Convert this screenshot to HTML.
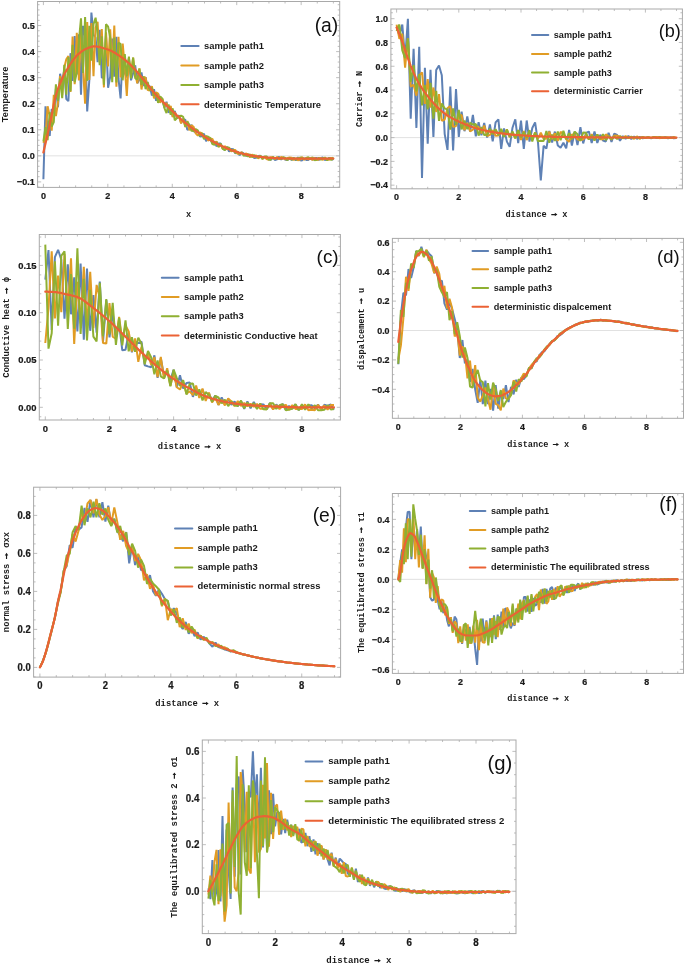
<!DOCTYPE html>
<html><head><meta charset="utf-8"><style>
html,body{margin:0;padding:0;background:#fff;}
body{width:685px;height:965px;overflow:hidden;}
svg{display:block;}
text{fill:#1a1a1a;}
svg{will-change:transform;filter:blur(0.3px);}
.tk{font-family:"Liberation Sans", sans-serif;font-weight:bold;stroke:#1a1a1a;stroke-width:0.22px;}
.lg{font-family:"Liberation Sans", sans-serif;font-weight:bold;}
.pl{font-family:"Liberation Sans", sans-serif;fill:#111;}
.yl{font-family:"Liberation Sans", sans-serif;font-weight:bold;}
.ml{font-family:"Liberation Mono", monospace;font-weight:bold;}
</style></head><body>
<svg width="685" height="965" viewBox="0 0 685 965">
<rect width="100%" height="100%" fill="#fff"/>
<clipPath id="clipa"><rect x="37.60" y="1.50" width="302.10" height="185.90"/></clipPath>
<line x1="37.60" y1="155.85" x2="339.70" y2="155.85" stroke="#dedede" stroke-width="0.9"/>
<g clip-path="url(#clipa)" fill="none">
<polyline points="43.4,179.3 45.5,106.3 47.6,127.9 49.7,135.9 51.7,109.0 53.8,113.4 55.9,88.6 58.0,107.1 60.1,73.8 62.2,85.2 64.3,69.0 66.3,99.0 68.4,101.1 70.5,53.2 72.6,81.0 74.7,36.1 76.8,74.4 78.9,34.4 81.0,94.6 83.0,25.9 85.1,36.3 87.2,111.5 89.3,80.4 91.4,12.5 93.5,34.7 95.6,37.5 97.6,62.1 99.7,29.7 101.8,78.0 103.9,76.8 106.0,35.8 108.1,87.8 110.2,76.8 112.2,38.5 114.3,76.7 116.4,36.9 118.5,78.7 120.6,98.5 122.7,52.5 124.8,73.0 126.8,77.4 128.9,57.8 131.0,80.3 133.1,73.1 135.2,65.3 137.3,83.2 139.4,79.5 141.5,72.5 143.5,86.1 145.6,77.1 147.7,88.8 149.8,85.9 151.9,95.6 154.0,89.3 156.1,100.7 158.1,93.4 160.2,101.1 162.3,99.5 164.4,107.6 166.5,101.8 168.6,112.8 170.7,106.9 172.7,116.6 174.8,110.9 176.9,118.5 179.0,115.3 181.1,123.0 183.2,118.9 185.3,119.8 187.3,129.8 189.4,128.9 191.5,124.8 193.6,131.2 195.7,132.5 197.8,131.1 199.9,136.5 202.0,136.3 204.0,133.7 206.1,141.2 208.2,138.0 210.3,139.0 212.4,143.2 214.5,141.5 216.6,146.4 218.6,143.4 220.7,143.6 222.8,148.6 224.9,150.0 227.0,146.8 229.1,151.6 231.2,149.0 233.2,149.2 235.3,153.4 237.4,151.5 239.5,155.3 241.6,152.4 243.7,153.5 245.8,155.9 247.8,154.1 249.9,157.1 252.0,155.0 254.1,157.9 256.2,157.8 258.3,156.1 260.4,155.8 262.4,158.6 264.5,156.9 266.6,156.8 268.7,159.2 270.8,159.7 272.9,157.6 275.0,160.0 277.1,159.3 279.1,156.7 281.2,159.7 283.3,157.3 285.4,159.8 287.5,159.9 289.6,158.0 291.7,160.0 293.7,157.7 295.8,160.4 297.9,157.4 300.0,160.2 302.1,160.4 304.2,158.1 306.3,160.1 308.3,159.9 310.4,158.1 312.5,159.8 314.6,158.0 316.7,158.1 318.8,160.0 320.9,158.0 322.9,157.6 325.0,160.0 327.1,159.4 329.2,157.9 331.3,157.9 333.4,160.0" stroke="#5E81B5" stroke-width="2.0" stroke-linejoin="bevel"/>
<polyline points="43.4,142.8 45.5,137.6 47.6,106.3 49.7,115.5 51.7,130.6 53.8,94.9 55.9,116.2 58.0,102.6 60.1,75.9 62.2,95.1 64.3,67.4 66.3,59.2 68.4,56.1 70.5,92.0 72.6,36.5 74.7,84.2 76.8,32.7 78.9,80.5 81.0,31.2 83.0,67.7 85.1,103.7 87.2,22.1 89.3,80.0 91.4,23.0 93.5,76.2 95.6,27.9 97.6,21.9 99.7,62.1 101.8,29.1 103.9,87.4 106.0,32.3 108.1,66.4 110.2,29.3 112.2,68.7 114.3,25.5 116.4,86.7 118.5,36.7 120.6,77.5 122.7,43.6 124.8,67.0 126.8,95.9 128.9,59.0 131.0,74.8 133.1,57.7 135.2,74.2 137.3,83.4 139.4,68.3 141.5,89.5 143.5,77.0 145.6,77.6 147.7,90.0 149.8,90.4 151.9,86.1 154.0,98.4 156.1,92.4 158.1,93.7 160.2,102.8 162.3,98.4 164.4,106.7 166.5,102.9 168.6,109.8 170.7,105.9 172.7,117.2 174.8,112.2 176.9,117.6 179.0,116.4 181.1,123.4 183.2,118.9 185.3,127.1 187.3,121.0 189.4,130.3 191.5,125.3 193.6,126.8 195.7,133.4 197.8,135.6 199.9,132.4 202.0,133.5 204.0,138.1 206.1,136.0 208.2,140.7 210.3,138.6 212.4,138.9 214.5,144.2 216.6,141.3 218.6,146.9 220.7,144.4 222.8,149.2 224.9,146.1 227.0,149.6 229.1,147.8 231.2,151.5 233.2,150.0 235.3,150.1 237.4,153.8 239.5,153.8 241.6,152.2 243.7,155.0 245.8,153.5 247.8,154.1 249.9,157.2 252.0,154.5 254.1,156.9 256.2,155.4 258.3,158.5 260.4,156.1 262.4,159.0 264.5,156.7 266.6,159.0 268.7,159.7 270.8,157.2 272.9,157.5 275.0,159.2 277.1,157.0 279.1,159.3 281.2,156.9 283.3,157.9 285.4,159.5 287.5,158.0 289.6,157.6 291.7,157.7 293.7,160.1 295.8,158.1 297.9,160.2 300.0,159.6 302.1,157.2 304.2,159.8 306.3,158.1 308.3,159.3 310.4,157.9 312.5,160.2 314.6,157.9 316.7,160.1 318.8,159.5 320.9,158.2 322.9,159.9 325.0,157.6 327.1,159.4 329.2,159.7 331.3,157.8 333.4,159.6" stroke="#E19C24" stroke-width="2.0" stroke-linejoin="bevel"/>
<polyline points="43.4,141.5 45.5,127.2 47.6,140.2 49.7,112.2 51.7,126.7 53.8,122.1 55.9,84.3 58.0,101.0 60.1,78.6 62.2,98.2 64.3,64.8 66.3,94.8 68.4,57.0 70.5,91.1 72.6,44.9 74.7,82.2 76.8,72.3 78.9,40.9 81.0,18.4 83.0,73.0 85.1,17.1 87.2,80.9 89.3,25.8 91.4,60.6 93.5,24.2 95.6,17.7 97.6,33.8 99.7,65.3 101.8,36.3 103.9,84.6 106.0,24.2 108.1,26.7 110.2,37.6 112.2,82.1 114.3,37.5 116.4,82.5 118.5,42.9 120.6,44.0 122.7,80.3 124.8,54.2 126.8,76.0 128.9,56.5 131.0,78.4 133.1,57.6 135.2,78.1 137.3,79.5 139.4,68.7 141.5,84.8 143.5,76.4 145.6,89.2 147.7,82.0 149.8,90.4 151.9,87.5 154.0,96.0 156.1,93.2 158.1,102.9 160.2,96.3 162.3,98.6 164.4,108.1 166.5,113.0 168.6,104.5 170.7,114.7 172.7,108.3 174.8,120.4 176.9,118.0 179.0,116.2 181.1,115.7 183.2,116.9 185.3,126.6 187.3,121.5 189.4,124.8 191.5,130.8 193.6,131.0 195.7,129.1 197.8,130.3 199.9,136.0 202.0,133.1 204.0,139.1 206.1,136.1 208.2,136.8 210.3,138.2 212.4,144.1 214.5,144.8 216.6,142.2 218.6,146.9 220.7,143.6 222.8,148.6 224.9,150.2 227.0,147.2 229.1,147.8 231.2,150.8 233.2,149.6 235.3,153.0 237.4,151.7 239.5,153.8 241.6,152.5 243.7,155.7 245.8,155.1 247.8,156.3 249.9,154.2 252.0,157.3 254.1,154.8 256.2,157.1 258.3,157.6 260.4,155.7 262.4,158.8 264.5,156.4 266.6,156.4 268.7,159.5 270.8,159.7 272.9,156.7 275.0,158.8 277.1,157.7 279.1,157.8 281.2,158.9 283.3,157.2 285.4,158.0 287.5,160.2 289.6,157.6 291.7,159.8 293.7,158.0 295.8,159.7 297.9,158.1 300.0,157.6 302.1,157.8 304.2,159.3 306.3,158.0 308.3,157.2 310.4,159.3 312.5,157.3 314.6,160.3 316.7,159.7 318.8,157.7 320.9,159.7 322.9,158.1 325.0,157.6 327.1,160.4 329.2,157.8 331.3,160.2 333.4,157.4" stroke="#8FB032" stroke-width="2.0" stroke-linejoin="bevel"/>
<polyline points="43.4,152.5 44.2,149.0 45.0,145.6 45.8,142.2 46.6,138.7 47.4,135.2 48.2,131.6 49.0,127.9 49.8,124.0 50.6,120.0 51.5,115.9 52.3,111.9 53.1,107.9 53.9,104.0 54.7,100.4 55.5,97.1 56.3,94.1 57.1,91.5 57.9,89.2 58.7,87.0 59.5,84.9 60.3,82.9 61.1,81.0 61.9,79.2 62.7,77.5 63.5,75.8 64.3,74.3 65.1,72.8 66.0,71.3 66.8,69.9 67.6,68.6 68.4,67.2 69.2,65.9 70.0,64.7 70.8,63.5 71.6,62.3 72.4,61.1 73.2,60.0 74.0,58.9 74.8,57.9 75.6,57.0 76.4,56.0 77.2,55.2 78.0,54.4 78.8,53.7 79.6,53.0 80.5,52.4 81.3,51.8 82.1,51.2 82.9,50.6 83.7,50.1 84.5,49.6 85.3,49.2 86.1,48.8 86.9,48.5 87.7,48.2 88.5,47.8 89.3,47.5 90.1,47.2 90.9,47.0 91.7,46.7 92.5,46.6 93.3,46.4 94.1,46.4 95.0,46.4 95.8,46.5 96.6,46.5 97.4,46.6 98.2,46.8 99.0,46.9 99.8,47.1 100.6,47.3 101.4,47.5 102.2,47.7 103.0,48.0 103.8,48.2 104.6,48.5 105.4,48.7 106.2,49.0 107.0,49.2 107.8,49.5 108.6,49.8 109.5,50.1 110.3,50.4 111.1,50.8 111.9,51.2 112.7,51.6 113.5,52.1 114.3,52.5 115.1,53.0 115.9,53.5 116.7,54.0 117.5,54.6 118.3,55.1 119.1,55.6 119.9,56.2 120.7,56.8 121.5,57.3 122.3,57.9 123.1,58.5 123.9,59.1 124.8,59.7 125.6,60.4 126.4,61.1 127.2,61.8 128.0,62.5 128.8,63.2 129.6,64.0 130.4,64.8 131.2,65.6 132.0,66.4 132.8,67.2 133.6,68.0 134.4,68.9 135.2,69.8 136.0,70.7 136.8,71.6 137.6,72.5 138.4,73.5 139.3,74.5 140.1,75.5 140.9,76.5 141.7,77.5 142.5,78.5 143.3,79.5 144.1,80.5 144.9,81.4 145.7,82.4 146.5,83.4 147.3,84.4 148.1,85.4 148.9,86.4 149.7,87.4 150.5,88.4 151.3,89.4 152.1,90.4 152.9,91.4 153.8,92.3 154.6,93.3 155.4,94.2 156.2,95.0 157.0,95.9 157.8,96.8 158.6,97.6 159.4,98.4 160.2,99.2 161.0,100.0 161.8,100.8 162.6,101.6 163.4,102.3 164.2,103.1 165.0,103.9 165.8,104.7 166.6,105.4 167.4,106.2 168.3,107.0 169.1,107.8 169.9,108.6 170.7,109.4 171.5,110.2 172.3,111.0 173.1,111.7 173.9,112.5 174.7,113.3 175.5,114.1 176.3,114.9 177.1,115.6 177.9,116.4 178.7,117.1 179.5,117.9 180.3,118.6 181.1,119.3 181.9,120.0 182.8,120.7 183.6,121.4 184.4,122.1 185.2,122.8 186.0,123.4 186.8,124.0 187.6,124.7 188.4,125.3 189.2,125.9 190.0,126.6 190.8,127.2 191.6,127.8 192.4,128.4 193.2,129.0 194.0,129.5 194.8,130.1 195.6,130.7 196.4,131.3 197.3,131.8 198.1,132.4 198.9,132.9 199.7,133.5 200.5,134.0 201.3,134.5 202.1,135.0 202.9,135.6 203.7,136.1 204.5,136.6 205.3,137.1 206.1,137.6 206.9,138.0 207.7,138.5 208.5,139.0 209.3,139.5 210.1,139.9 210.9,140.4 211.7,140.9 212.6,141.3 213.4,141.7 214.2,142.2 215.0,142.6 215.8,143.0 216.6,143.5 217.4,143.9 218.2,144.3 219.0,144.7 219.8,145.0 220.6,145.4 221.4,145.8 222.2,146.2 223.0,146.5 223.8,146.9 224.6,147.3 225.4,147.6 226.2,148.0 227.1,148.3 227.9,148.7 228.7,149.0 229.5,149.3 230.3,149.7 231.1,150.0 231.9,150.3 232.7,150.6 233.5,150.9 234.3,151.2 235.1,151.4 235.9,151.7 236.7,151.9 237.5,152.2 238.3,152.4 239.1,152.7 239.9,152.9 240.7,153.1 241.6,153.3 242.4,153.6 243.2,153.8 244.0,154.0 244.8,154.2 245.6,154.4 246.4,154.6 247.2,154.8 248.0,154.9 248.8,155.1 249.6,155.3 250.4,155.4 251.2,155.6 252.0,155.7 252.8,155.8 253.6,156.0 254.4,156.1 255.2,156.2 256.1,156.3 256.9,156.4 257.7,156.5 258.5,156.6 259.3,156.7 260.1,156.8 260.9,156.9 261.7,157.0 262.5,157.1 263.3,157.2 264.1,157.3 264.9,157.4 265.7,157.4 266.5,157.5 267.3,157.6 268.1,157.6 268.9,157.7 269.7,157.7 270.6,157.8 271.4,157.8 272.2,157.9 273.0,157.9 273.8,158.0 274.6,158.0 275.4,158.1 276.2,158.1 277.0,158.2 277.8,158.2 278.6,158.2 279.4,158.3 280.2,158.3 281.0,158.3 281.8,158.4 282.6,158.4 283.4,158.4 284.2,158.4 285.0,158.5 285.9,158.5 286.7,158.5 287.5,158.5 288.3,158.5 289.1,158.6 289.9,158.6 290.7,158.6 291.5,158.6 292.3,158.6 293.1,158.6 293.9,158.6 294.7,158.7 295.5,158.7 296.3,158.7 297.1,158.7 297.9,158.7 298.7,158.7 299.5,158.7 300.4,158.7 301.2,158.7 302.0,158.7 302.8,158.7 303.6,158.7 304.4,158.7 305.2,158.7 306.0,158.7 306.8,158.7 307.6,158.7 308.4,158.7 309.2,158.7 310.0,158.7 310.8,158.7 311.6,158.7 312.4,158.7 313.2,158.7 314.0,158.7 314.9,158.7 315.7,158.7 316.5,158.7 317.3,158.7 318.1,158.7 318.9,158.7 319.7,158.7 320.5,158.7 321.3,158.7 322.1,158.7 322.9,158.7 323.7,158.7 324.5,158.6 325.3,158.6 326.1,158.6 326.9,158.6 327.7,158.6 328.5,158.6 329.4,158.6 330.2,158.5 331.0,158.5 331.8,158.5 332.6,158.5 333.4,158.5" stroke="#EB6235" stroke-width="2.2" stroke-linejoin="round" stroke-linecap="round"/>
</g>
<path d="M43.40 187.40v-3.60M43.40 1.50v3.60M59.51 187.40v-2.00M59.51 1.50v2.00M75.62 187.40v-2.00M75.62 1.50v2.00M91.73 187.40v-2.00M91.73 1.50v2.00M107.84 187.40v-3.60M107.84 1.50v3.60M123.95 187.40v-2.00M123.95 1.50v2.00M140.06 187.40v-2.00M140.06 1.50v2.00M156.17 187.40v-2.00M156.17 1.50v2.00M172.28 187.40v-3.60M172.28 1.50v3.60M188.39 187.40v-2.00M188.39 1.50v2.00M204.50 187.40v-2.00M204.50 1.50v2.00M220.61 187.40v-2.00M220.61 1.50v2.00M236.72 187.40v-3.60M236.72 1.50v3.60M252.83 187.40v-2.00M252.83 1.50v2.00M268.94 187.40v-2.00M268.94 1.50v2.00M285.05 187.40v-2.00M285.05 1.50v2.00M301.16 187.40v-3.60M301.16 1.50v3.60M317.27 187.40v-2.00M317.27 1.50v2.00M333.38 187.40v-2.00M333.38 1.50v2.00M37.60 187.12h2.00M339.70 187.12h-2.00M37.60 181.91h3.60M339.70 181.91h-3.60M37.60 176.70h2.00M339.70 176.70h-2.00M37.60 171.49h2.00M339.70 171.49h-2.00M37.60 166.27h2.00M339.70 166.27h-2.00M37.60 161.06h2.00M339.70 161.06h-2.00M37.60 155.85h3.60M339.70 155.85h-3.60M37.60 150.64h2.00M339.70 150.64h-2.00M37.60 145.43h2.00M339.70 145.43h-2.00M37.60 140.21h2.00M339.70 140.21h-2.00M37.60 135.00h2.00M339.70 135.00h-2.00M37.60 129.79h3.60M339.70 129.79h-3.60M37.60 124.58h2.00M339.70 124.58h-2.00M37.60 119.37h2.00M339.70 119.37h-2.00M37.60 114.15h2.00M339.70 114.15h-2.00M37.60 108.94h2.00M339.70 108.94h-2.00M37.60 103.73h3.60M339.70 103.73h-3.60M37.60 98.52h2.00M339.70 98.52h-2.00M37.60 93.31h2.00M339.70 93.31h-2.00M37.60 88.09h2.00M339.70 88.09h-2.00M37.60 82.88h2.00M339.70 82.88h-2.00M37.60 77.67h3.60M339.70 77.67h-3.60M37.60 72.46h2.00M339.70 72.46h-2.00M37.60 67.25h2.00M339.70 67.25h-2.00M37.60 62.03h2.00M339.70 62.03h-2.00M37.60 56.82h2.00M339.70 56.82h-2.00M37.60 51.61h3.60M339.70 51.61h-3.60M37.60 46.40h2.00M339.70 46.40h-2.00M37.60 41.19h2.00M339.70 41.19h-2.00M37.60 35.97h2.00M339.70 35.97h-2.00M37.60 30.76h2.00M339.70 30.76h-2.00M37.60 25.55h3.60M339.70 25.55h-3.60M37.60 20.34h2.00M339.70 20.34h-2.00M37.60 15.13h2.00M339.70 15.13h-2.00M37.60 9.91h2.00M339.70 9.91h-2.00M37.60 4.70h2.00M339.70 4.70h-2.00" stroke="#b4b4b4" stroke-width="0.85" fill="none"/>
<rect x="37.60" y="1.50" width="302.10" height="185.90" fill="none" stroke="#a9a9a9" stroke-width="1"/>
<text transform="translate(34.75 185.27) scale(1 1.060)" text-anchor="end" class="tk" style="font-size:9.05px">−0.1</text>
<text transform="translate(34.75 159.21) scale(1 1.060)" text-anchor="end" class="tk" style="font-size:9.05px">0.0</text>
<text transform="translate(34.75 133.15) scale(1 1.060)" text-anchor="end" class="tk" style="font-size:9.05px">0.1</text>
<text transform="translate(34.75 107.09) scale(1 1.060)" text-anchor="end" class="tk" style="font-size:9.05px">0.2</text>
<text transform="translate(34.75 81.03) scale(1 1.060)" text-anchor="end" class="tk" style="font-size:9.05px">0.3</text>
<text transform="translate(34.75 54.97) scale(1 1.060)" text-anchor="end" class="tk" style="font-size:9.05px">0.4</text>
<text transform="translate(34.75 28.91) scale(1 1.060)" text-anchor="end" class="tk" style="font-size:9.05px">0.5</text>
<text transform="translate(43.40 198.83) scale(1 1.060)" text-anchor="middle" class="tk" style="font-size:9.05px">0</text>
<text transform="translate(107.84 198.83) scale(1 1.060)" text-anchor="middle" class="tk" style="font-size:9.05px">2</text>
<text transform="translate(172.28 198.83) scale(1 1.060)" text-anchor="middle" class="tk" style="font-size:9.05px">4</text>
<text transform="translate(236.72 198.83) scale(1 1.060)" text-anchor="middle" class="tk" style="font-size:9.05px">6</text>
<text transform="translate(301.16 198.83) scale(1 1.060)" text-anchor="middle" class="tk" style="font-size:9.05px">8</text>
<line x1="181.30" y1="46.00" x2="198.60" y2="46.00" stroke="#5E81B5" stroke-width="2" stroke-linecap="round"/>
<text x="203.97" y="49.30" class="lg" style="font-size:9.38px">sample path1</text>
<line x1="181.30" y1="65.50" x2="198.60" y2="65.50" stroke="#E19C24" stroke-width="2" stroke-linecap="round"/>
<text x="203.97" y="68.80" class="lg" style="font-size:9.38px">sample path2</text>
<line x1="181.30" y1="84.90" x2="198.60" y2="84.90" stroke="#8FB032" stroke-width="2" stroke-linecap="round"/>
<text x="203.97" y="88.20" class="lg" style="font-size:9.38px">sample path3</text>
<line x1="181.30" y1="104.20" x2="198.60" y2="104.20" stroke="#EB6235" stroke-width="2" stroke-linecap="round"/>
<text x="203.97" y="107.50" class="lg" style="font-size:9.38px">deterministic Temperature</text>
<text x="314.70" y="32.10" class="pl" style="font-size:19.30px">(a)</text>
<text transform="translate(7.70 94.45) rotate(-90)" x="0" y="0" text-anchor="middle" class="yl" style="font-size:9.30px">Temperature</text>
<text x="185.89" y="216.60" class="ml" style="font-size:8.70px">x</text>
<clipPath id="clipb"><rect x="390.90" y="9.00" width="291.50" height="179.80"/></clipPath>
<line x1="390.90" y1="137.60" x2="682.40" y2="137.60" stroke="#dedede" stroke-width="0.9"/>
<g clip-path="url(#clipb)" fill="none">
<polyline points="396.6,27.0 399.4,35.3 402.3,24.6 405.1,59.1 407.9,18.7 410.7,118.6 413.6,48.9 416.4,127.9 419.2,46.8 422.0,178.0 424.9,67.7 427.7,143.8 430.5,69.8 433.4,136.9 436.2,70.0 439.0,65.5 441.8,75.2 444.7,134.1 447.5,149.9 450.3,86.5 453.1,150.4 456.0,89.1 458.8,137.0 461.6,111.6 464.5,131.2 467.3,116.5 470.1,131.5 472.9,114.9 475.8,136.4 478.6,122.1 481.4,135.4 484.2,122.9 487.1,137.6 489.9,124.5 492.7,141.3 495.6,122.4 498.4,119.4 501.2,148.8 504.0,128.4 506.9,141.6 509.7,146.8 512.5,127.7 515.3,119.3 518.2,143.1 521.0,120.7 523.8,148.9 526.7,120.5 529.5,141.5 532.3,128.0 535.1,122.4 538.0,142.5 540.8,180.4 543.6,145.8 546.4,148.6 549.3,131.0 552.1,142.5 554.9,131.6 557.8,145.5 560.6,147.7 563.4,142.8 566.2,148.3 569.1,130.0 571.9,145.5 574.7,131.6 577.5,145.0 580.4,127.1 583.2,143.4 586.0,132.9 588.9,131.6 591.7,142.9 594.5,131.6 597.3,143.0 600.2,134.8 603.0,140.5 605.8,141.5 608.6,132.7 611.5,141.9 614.3,133.6 617.1,134.9 620.0,140.7 622.8,136.1 625.6,138.9 628.4,135.9 631.3,139.1 634.1,136.6 636.9,138.8 639.7,136.9 642.6,138.3 645.4,137.8 648.2,137.3 651.1,138.2 653.9,137.3 656.7,138.1 659.5,137.3 662.4,137.9 665.2,137.2 668.0,138.2 670.8,137.2 673.7,138.2 676.5,138.1" stroke="#5E81B5" stroke-width="2.0" stroke-linejoin="bevel"/>
<polyline points="396.6,24.6 399.4,38.9 402.3,33.8 405.1,67.6 407.9,38.3 410.7,86.5 413.6,84.9 416.4,95.7 419.2,75.5 422.0,72.3 424.9,104.0 427.7,79.2 430.5,107.7 433.4,87.5 436.2,112.0 439.0,94.1 441.8,120.7 444.7,119.6 447.5,108.1 450.3,106.2 453.1,126.9 456.0,126.1 458.8,116.0 461.6,114.9 464.5,130.2 467.3,122.9 470.1,131.3 472.9,129.6 475.8,125.5 478.6,127.2 481.4,133.3 484.2,125.5 487.1,136.1 489.9,134.9 492.7,130.2 495.6,135.8 498.4,135.5 501.2,130.9 504.0,136.0 506.9,129.4 509.7,137.2 512.5,133.1 515.3,138.2 518.2,131.0 521.0,140.0 523.8,131.1 526.7,140.0 529.5,133.4 532.3,139.1 535.1,132.5 538.0,138.6 540.8,132.8 543.6,138.7 546.4,138.7 549.3,131.6 552.1,139.1 554.9,133.3 557.8,140.9 560.6,131.8 563.4,134.3 566.2,139.3 569.1,141.8 571.9,134.5 574.7,134.7 577.5,139.2 580.4,140.2 583.2,139.4 586.0,134.8 588.9,139.6 591.7,134.3 594.5,139.8 597.3,134.5 600.2,139.2 603.0,139.2 605.8,134.4 608.6,136.1 611.5,139.7 614.3,135.5 617.1,135.8 620.0,136.7 622.8,138.1 625.6,136.1 628.4,138.1 631.3,136.9 634.1,138.8 636.9,136.4 639.7,138.5 642.6,137.0 645.4,138.0 648.2,137.1 651.1,137.9 653.9,136.9 656.7,137.0 659.5,138.2 662.4,137.3 665.2,138.0 668.0,137.1 670.8,137.9 673.7,137.2 676.5,137.9" stroke="#E19C24" stroke-width="2.0" stroke-linejoin="bevel"/>
<polyline points="396.6,31.2 399.4,24.5 402.3,50.4 405.1,58.2 407.9,38.5 410.7,81.8 413.6,65.2 416.4,91.4 419.2,74.2 422.0,105.3 424.9,85.0 427.7,109.5 430.5,82.9 433.4,118.6 436.2,90.9 439.0,120.8 441.8,103.5 444.7,108.4 447.5,109.6 450.3,129.7 453.1,108.5 456.0,124.9 458.8,109.9 461.6,129.4 464.5,120.5 467.3,129.2 470.1,122.8 472.9,124.7 475.8,123.9 478.6,135.6 481.4,127.0 484.2,135.1 487.1,134.7 489.9,128.8 492.7,134.2 495.6,129.3 498.4,135.0 501.2,128.8 504.0,136.9 506.9,129.5 509.7,137.0 512.5,131.5 515.3,138.4 518.2,130.1 521.0,137.5 523.8,132.2 526.7,137.8 529.5,130.2 532.3,141.4 535.1,132.5 538.0,141.2 540.8,140.8 543.6,141.1 546.4,131.0 549.3,142.8 552.1,134.6 554.9,140.9 557.8,131.5 560.6,140.2 563.4,130.7 566.2,139.2 569.1,133.1 571.9,139.4 574.7,131.7 577.5,134.3 580.4,140.8 583.2,132.6 586.0,132.8 588.9,139.5 591.7,135.3 594.5,140.5 597.3,134.5 600.2,139.1 603.0,134.2 605.8,140.1 608.6,136.2 611.5,139.2 614.3,136.6 617.1,139.0 620.0,136.1 622.8,138.3 625.6,136.9 628.4,138.2 631.3,136.6 634.1,138.0 636.9,137.1 639.7,138.6 642.6,137.0 645.4,138.0 648.2,137.2 651.1,138.1 653.9,136.9 656.7,137.9 659.5,136.9 662.4,137.9 665.2,137.1 668.0,137.9 670.8,138.1 673.7,137.1 676.5,138.1" stroke="#8FB032" stroke-width="2.0" stroke-linejoin="bevel"/>
<polyline points="396.6,27.5 397.4,29.3 398.2,31.1 398.9,33.0 399.7,34.9 400.5,36.9 401.3,38.9 402.0,41.0 402.8,43.1 403.6,45.3 404.4,47.7 405.2,50.1 405.9,52.5 406.7,54.8 407.5,57.2 408.3,59.4 409.0,61.5 409.8,63.5 410.6,65.6 411.4,67.5 412.2,69.4 412.9,71.3 413.7,73.1 414.5,74.8 415.3,76.4 416.0,78.0 416.8,79.5 417.6,81.0 418.4,82.4 419.1,83.7 419.9,85.0 420.7,86.3 421.5,87.6 422.3,88.7 423.0,89.9 423.8,91.0 424.6,92.1 425.4,93.1 426.1,94.1 426.9,95.1 427.7,96.1 428.5,97.1 429.3,98.1 430.0,99.1 430.8,100.0 431.6,100.9 432.4,101.8 433.1,102.7 433.9,103.6 434.7,104.4 435.5,105.3 436.3,106.1 437.0,106.9 437.8,107.6 438.6,108.4 439.4,109.1 440.1,109.8 440.9,110.5 441.7,111.2 442.5,111.8 443.2,112.4 444.0,113.1 444.8,113.6 445.6,114.2 446.4,114.7 447.1,115.3 447.9,115.8 448.7,116.3 449.5,116.7 450.2,117.2 451.0,117.6 451.8,118.1 452.6,118.5 453.4,118.9 454.1,119.3 454.9,119.7 455.7,120.1 456.5,120.5 457.2,120.9 458.0,121.2 458.8,121.6 459.6,121.9 460.4,122.3 461.1,122.6 461.9,122.9 462.7,123.2 463.5,123.5 464.2,123.9 465.0,124.2 465.8,124.5 466.6,124.8 467.4,125.1 468.1,125.4 468.9,125.8 469.7,126.1 470.5,126.4 471.2,126.7 472.0,126.9 472.8,127.2 473.6,127.5 474.4,127.7 475.1,128.0 475.9,128.2 476.7,128.4 477.5,128.7 478.2,128.9 479.0,129.1 479.8,129.3 480.6,129.5 481.3,129.7 482.1,129.9 482.9,130.1 483.7,130.3 484.5,130.5 485.2,130.6 486.0,130.8 486.8,131.0 487.6,131.1 488.3,131.3 489.1,131.4 489.9,131.6 490.7,131.7 491.5,131.9 492.2,132.0 493.0,132.2 493.8,132.3 494.6,132.4 495.3,132.5 496.1,132.7 496.9,132.8 497.7,132.9 498.5,133.0 499.2,133.1 500.0,133.2 500.8,133.3 501.6,133.4 502.3,133.5 503.1,133.6 503.9,133.7 504.7,133.8 505.5,133.9 506.2,134.0 507.0,134.1 507.8,134.2 508.6,134.3 509.3,134.3 510.1,134.4 510.9,134.5 511.7,134.6 512.4,134.7 513.2,134.7 514.0,134.8 514.8,134.9 515.6,134.9 516.3,135.0 517.1,135.1 517.9,135.1 518.7,135.2 519.4,135.2 520.2,135.3 521.0,135.3 521.8,135.4 522.6,135.4 523.3,135.5 524.1,135.5 524.9,135.6 525.7,135.6 526.4,135.7 527.2,135.7 528.0,135.8 528.8,135.8 529.6,135.8 530.3,135.9 531.1,135.9 531.9,136.0 532.7,136.0 533.4,136.0 534.2,136.1 535.0,136.1 535.8,136.2 536.6,136.2 537.3,136.2 538.1,136.3 538.9,136.3 539.7,136.3 540.4,136.4 541.2,136.4 542.0,136.4 542.8,136.5 543.5,136.5 544.3,136.5 545.1,136.5 545.9,136.6 546.7,136.6 547.4,136.6 548.2,136.6 549.0,136.7 549.8,136.7 550.5,136.7 551.3,136.7 552.1,136.7 552.9,136.8 553.7,136.8 554.4,136.8 555.2,136.8 556.0,136.8 556.8,136.8 557.5,136.9 558.3,136.9 559.1,136.9 559.9,136.9 560.7,136.9 561.4,136.9 562.2,137.0 563.0,137.0 563.8,137.0 564.5,137.0 565.3,137.0 566.1,137.0 566.9,137.0 567.7,137.0 568.4,137.1 569.2,137.1 570.0,137.1 570.8,137.1 571.5,137.1 572.3,137.1 573.1,137.1 573.9,137.1 574.6,137.1 575.4,137.2 576.2,137.2 577.0,137.2 577.8,137.2 578.5,137.2 579.3,137.2 580.1,137.2 580.9,137.2 581.6,137.2 582.4,137.2 583.2,137.2 584.0,137.3 584.8,137.3 585.5,137.3 586.3,137.3 587.1,137.3 587.9,137.3 588.6,137.3 589.4,137.3 590.2,137.3 591.0,137.3 591.8,137.3 592.5,137.3 593.3,137.3 594.1,137.3 594.9,137.4 595.6,137.4 596.4,137.4 597.2,137.4 598.0,137.4 598.8,137.4 599.5,137.4 600.3,137.4 601.1,137.4 601.9,137.4 602.6,137.4 603.4,137.4 604.2,137.4 605.0,137.4 605.7,137.4 606.5,137.4 607.3,137.4 608.1,137.5 608.9,137.5 609.6,137.5 610.4,137.5 611.2,137.5 612.0,137.5 612.7,137.5 613.5,137.5 614.3,137.5 615.1,137.5 615.9,137.5 616.6,137.5 617.4,137.5 618.2,137.5 619.0,137.5 619.7,137.5 620.5,137.5 621.3,137.5 622.1,137.5 622.9,137.5 623.6,137.5 624.4,137.5 625.2,137.5 626.0,137.5 626.7,137.5 627.5,137.5 628.3,137.5 629.1,137.5 629.9,137.5 630.6,137.5 631.4,137.5 632.2,137.5 633.0,137.5 633.7,137.5 634.5,137.5 635.3,137.5 636.1,137.5 636.8,137.5 637.6,137.5 638.4,137.6 639.2,137.6 640.0,137.6 640.7,137.6 641.5,137.6 642.3,137.6 643.1,137.6 643.8,137.6 644.6,137.6 645.4,137.6 646.2,137.6 647.0,137.6 647.7,137.6 648.5,137.6 649.3,137.6 650.1,137.6 650.8,137.6 651.6,137.6 652.4,137.6 653.2,137.6 654.0,137.6 654.7,137.6 655.5,137.6 656.3,137.6 657.1,137.6 657.8,137.6 658.6,137.6 659.4,137.6 660.2,137.6 661.0,137.6 661.7,137.6 662.5,137.6 663.3,137.6 664.1,137.6 664.8,137.6 665.6,137.6 666.4,137.6 667.2,137.6 667.9,137.6 668.7,137.6 669.5,137.6 670.3,137.6 671.1,137.6 671.8,137.6 672.6,137.6 673.4,137.6 674.2,137.6 674.9,137.6 675.7,137.6 676.5,137.6" stroke="#EB6235" stroke-width="2.2" stroke-linejoin="round" stroke-linecap="round"/>
</g>
<path d="M396.60 188.80v-3.60M396.60 9.00v3.60M412.15 188.80v-2.00M412.15 9.00v2.00M427.70 188.80v-2.00M427.70 9.00v2.00M443.25 188.80v-2.00M443.25 9.00v2.00M458.80 188.80v-3.60M458.80 9.00v3.60M474.35 188.80v-2.00M474.35 9.00v2.00M489.90 188.80v-2.00M489.90 9.00v2.00M505.45 188.80v-2.00M505.45 9.00v2.00M521.00 188.80v-3.60M521.00 9.00v3.60M536.55 188.80v-2.00M536.55 9.00v2.00M552.10 188.80v-2.00M552.10 9.00v2.00M567.65 188.80v-2.00M567.65 9.00v2.00M583.20 188.80v-3.60M583.20 9.00v3.60M598.75 188.80v-2.00M598.75 9.00v2.00M614.30 188.80v-2.00M614.30 9.00v2.00M629.85 188.80v-2.00M629.85 9.00v2.00M645.40 188.80v-3.60M645.40 9.00v3.60M660.95 188.80v-2.00M660.95 9.00v2.00M676.50 188.80v-2.00M676.50 9.00v2.00M390.90 185.16h3.60M682.40 185.16h-3.60M390.90 179.22h2.00M682.40 179.22h-2.00M390.90 173.27h2.00M682.40 173.27h-2.00M390.90 167.32h2.00M682.40 167.32h-2.00M390.90 161.38h3.60M682.40 161.38h-3.60M390.90 155.44h2.00M682.40 155.44h-2.00M390.90 149.49h2.00M682.40 149.49h-2.00M390.90 143.54h2.00M682.40 143.54h-2.00M390.90 137.60h3.60M682.40 137.60h-3.60M390.90 131.66h2.00M682.40 131.66h-2.00M390.90 125.71h2.00M682.40 125.71h-2.00M390.90 119.76h2.00M682.40 119.76h-2.00M390.90 113.82h3.60M682.40 113.82h-3.60M390.90 107.88h2.00M682.40 107.88h-2.00M390.90 101.93h2.00M682.40 101.93h-2.00M390.90 95.98h2.00M682.40 95.98h-2.00M390.90 90.04h3.60M682.40 90.04h-3.60M390.90 84.09h2.00M682.40 84.09h-2.00M390.90 78.15h2.00M682.40 78.15h-2.00M390.90 72.20h2.00M682.40 72.20h-2.00M390.90 66.26h3.60M682.40 66.26h-3.60M390.90 60.31h2.00M682.40 60.31h-2.00M390.90 54.37h2.00M682.40 54.37h-2.00M390.90 48.42h2.00M682.40 48.42h-2.00M390.90 42.48h3.60M682.40 42.48h-3.60M390.90 36.53h2.00M682.40 36.53h-2.00M390.90 30.59h2.00M682.40 30.59h-2.00M390.90 24.64h2.00M682.40 24.64h-2.00M390.90 18.70h3.60M682.40 18.70h-3.60M390.90 12.75h2.00M682.40 12.75h-2.00" stroke="#b4b4b4" stroke-width="0.85" fill="none"/>
<rect x="390.90" y="9.00" width="291.50" height="179.80" fill="none" stroke="#a9a9a9" stroke-width="1"/>
<text transform="translate(388.05 188.48) scale(1 1.060)" text-anchor="end" class="tk" style="font-size:8.95px">−0.4</text>
<text transform="translate(388.05 164.70) scale(1 1.060)" text-anchor="end" class="tk" style="font-size:8.95px">−0.2</text>
<text transform="translate(388.05 140.92) scale(1 1.060)" text-anchor="end" class="tk" style="font-size:8.95px">0.0</text>
<text transform="translate(388.05 117.14) scale(1 1.060)" text-anchor="end" class="tk" style="font-size:8.95px">0.2</text>
<text transform="translate(388.05 93.36) scale(1 1.060)" text-anchor="end" class="tk" style="font-size:8.95px">0.4</text>
<text transform="translate(388.05 69.58) scale(1 1.060)" text-anchor="end" class="tk" style="font-size:8.95px">0.6</text>
<text transform="translate(388.05 45.80) scale(1 1.060)" text-anchor="end" class="tk" style="font-size:8.95px">0.8</text>
<text transform="translate(388.05 22.02) scale(1 1.060)" text-anchor="end" class="tk" style="font-size:8.95px">1.0</text>
<text transform="translate(396.60 200.11) scale(1 1.060)" text-anchor="middle" class="tk" style="font-size:8.95px">0</text>
<text transform="translate(458.80 200.11) scale(1 1.060)" text-anchor="middle" class="tk" style="font-size:8.95px">2</text>
<text transform="translate(521.00 200.11) scale(1 1.060)" text-anchor="middle" class="tk" style="font-size:8.95px">4</text>
<text transform="translate(583.20 200.11) scale(1 1.060)" text-anchor="middle" class="tk" style="font-size:8.95px">6</text>
<text transform="translate(645.40 200.11) scale(1 1.060)" text-anchor="middle" class="tk" style="font-size:8.95px">8</text>
<line x1="532.00" y1="35.10" x2="548.30" y2="35.10" stroke="#5E81B5" stroke-width="2" stroke-linecap="round"/>
<text x="553.78" y="38.00" class="lg" style="font-size:9.10px">sample path1</text>
<line x1="532.00" y1="54.00" x2="548.30" y2="54.00" stroke="#E19C24" stroke-width="2" stroke-linecap="round"/>
<text x="553.78" y="56.90" class="lg" style="font-size:9.10px">sample path2</text>
<line x1="532.00" y1="72.60" x2="548.30" y2="72.60" stroke="#8FB032" stroke-width="2" stroke-linecap="round"/>
<text x="553.78" y="75.50" class="lg" style="font-size:9.10px">sample path3</text>
<line x1="532.00" y1="91.30" x2="548.30" y2="91.30" stroke="#EB6235" stroke-width="2" stroke-linecap="round"/>
<text x="553.78" y="94.20" class="lg" style="font-size:9.10px">deterministic Carrier</text>
<text x="658.70" y="37.00" class="pl" style="font-size:18.10px">(b)</text>
<g transform="translate(362.00 98.95) rotate(-90)">
<text x="-28.18" y="0.00" class="ml" style="font-size:8.54px">Carrier   N</text>
<path d="M12.04 -2.86H15.54V-4.01L18.10 -2.31L15.54 -0.60V-1.75H12.04Z" fill="#1a1a1a"/>
</g>
<text x="505.40" y="216.90" class="ml" style="font-size:8.64px">distance   x</text>
<path d="M551.27 214.01H554.82V212.84L557.41 214.57L554.82 216.30V215.13H551.27Z" fill="#1a1a1a"/>
<clipPath id="clipc"><rect x="39.30" y="234.50" width="301.10" height="185.50"/></clipPath>
<g clip-path="url(#clipc)" fill="none">
<polyline points="45.3,279.6 48.5,250.1 51.7,330.0 54.9,257.1 58.1,249.8 61.3,259.7 64.5,318.6 67.8,264.4 71.0,314.3 74.2,277.4 77.4,331.5 80.6,263.6 83.8,339.7 87.0,268.5 90.2,330.8 93.4,295.0 96.6,332.6 99.8,281.5 103.0,341.8 106.3,300.2 109.5,337.3 112.7,313.5 115.9,336.3 119.1,323.7 122.3,350.3 125.5,349.7 128.7,333.3 131.9,352.3 135.1,341.3 138.3,343.1 141.5,341.7 144.7,365.2 148.0,366.4 151.2,367.3 154.4,355.3 157.6,377.9 160.8,358.2 164.0,375.7 167.2,370.9 170.4,380.3 173.6,369.7 176.8,387.2 180.0,375.3 183.2,388.4 186.5,382.9 189.7,382.5 192.9,396.9 196.1,388.3 199.3,395.8 202.5,389.6 205.7,399.3 208.9,393.1 212.1,400.8 215.3,395.5 218.5,404.8 221.7,397.3 224.9,404.3 228.2,399.0 231.4,404.7 234.6,401.5 237.8,406.2 241.0,400.9 244.2,408.8 247.4,401.5 250.6,408.3 253.8,401.9 257.0,407.7 260.2,404.3 263.4,404.4 266.7,409.3 269.9,403.0 273.1,409.2 276.3,404.5 279.5,408.4 282.7,403.9 285.9,410.0 289.1,405.9 292.3,408.6 295.5,404.4 298.7,410.1 301.9,405.7 305.1,408.8 308.4,405.4 311.6,405.2 314.8,408.4 318.0,404.6 321.2,409.3 324.4,404.8 327.6,406.0 330.8,404.5 334.0,409.6" stroke="#5E81B5" stroke-width="2.0" stroke-linejoin="bevel"/>
<polyline points="45.3,343.0 48.5,308.1 51.7,251.3 54.9,318.4 58.1,275.5 61.3,312.1 64.5,253.8 67.8,313.1 71.0,258.3 74.2,344.0 77.4,281.7 80.6,323.5 83.8,266.7 87.0,327.7 90.2,271.8 93.4,328.2 96.6,284.9 99.8,298.1 103.0,343.0 106.3,343.6 109.5,303.1 112.7,336.6 115.9,338.8 119.1,316.8 122.3,340.6 125.5,325.4 128.7,331.5 131.9,351.5 135.1,338.4 138.3,361.8 141.5,346.8 144.7,361.4 148.0,353.3 151.2,365.1 154.4,357.2 157.6,377.0 160.8,356.9 164.0,378.8 167.2,368.3 170.4,385.7 173.6,372.6 176.8,387.2 180.0,389.5 183.2,381.9 186.5,393.8 189.7,391.3 192.9,395.1 196.1,385.5 199.3,398.0 202.5,388.5 205.7,401.0 208.9,392.5 212.1,402.5 215.3,397.8 218.5,404.9 221.7,399.7 224.9,405.4 228.2,398.4 231.4,401.4 234.6,406.2 237.8,401.0 241.0,405.9 244.2,402.9 247.4,406.2 250.6,403.7 253.8,406.8 257.0,403.9 260.2,408.8 263.4,408.8 266.7,409.1 269.9,403.7 273.1,409.4 276.3,405.2 279.5,409.1 282.7,405.8 285.9,404.9 289.1,410.0 292.3,405.1 295.5,408.9 298.7,408.9 301.9,409.1 305.1,404.4 308.4,410.3 311.6,409.8 314.8,410.3 318.0,404.8 321.2,408.8 324.4,405.5 327.6,409.6 330.8,405.0 334.0,405.1" stroke="#E19C24" stroke-width="2.0" stroke-linejoin="bevel"/>
<polyline points="45.3,244.6 48.5,348.6 51.7,333.2 54.9,261.3 58.1,325.8 61.3,255.8 64.5,251.2 67.8,328.9 71.0,274.1 74.2,328.7 77.4,248.4 80.6,333.9 83.8,278.9 87.0,340.4 90.2,289.8 93.4,336.6 96.6,341.4 99.8,282.9 103.0,336.1 106.3,299.0 109.5,334.4 112.7,302.9 115.9,345.0 119.1,317.9 122.3,345.4 125.5,320.4 128.7,351.3 131.9,337.3 135.1,351.8 138.3,337.6 141.5,343.6 144.7,364.3 148.0,350.9 151.2,357.5 154.4,374.3 157.6,360.5 160.8,376.4 164.0,378.5 167.2,370.4 170.4,386.3 173.6,369.7 176.8,378.2 180.0,385.9 183.2,380.1 186.5,394.6 189.7,383.7 192.9,383.4 196.1,395.6 199.3,389.4 202.5,400.4 205.7,392.1 208.9,394.7 212.1,401.9 215.3,395.8 218.5,397.5 221.7,403.2 224.9,399.8 228.2,406.1 231.4,401.2 234.6,405.3 237.8,405.9 241.0,400.6 244.2,408.3 247.4,402.6 250.6,406.9 253.8,403.2 257.0,409.0 260.2,403.4 263.4,409.3 266.7,409.4 269.9,403.3 273.1,403.3 276.3,408.9 279.5,405.3 282.7,404.1 285.9,410.3 289.1,409.6 292.3,408.7 295.5,404.2 298.7,410.3 301.9,404.3 305.1,409.7 308.4,404.3 311.6,408.7 314.8,405.2 318.0,410.3 321.2,410.3 324.4,409.8 327.6,405.2 330.8,409.4 334.0,408.9" stroke="#8FB032" stroke-width="2.0" stroke-linejoin="bevel"/>
<polyline points="45.3,291.7 46.1,291.7 46.9,291.7 47.7,291.7 48.5,291.8 49.3,291.8 50.1,291.8 50.9,291.8 51.7,291.9 52.5,291.9 53.3,292.0 54.1,292.0 54.9,292.1 55.7,292.1 56.5,292.2 57.3,292.3 58.1,292.5 58.9,292.6 59.7,292.8 60.5,292.9 61.3,293.1 62.1,293.3 62.9,293.5 63.7,293.7 64.5,293.9 65.3,294.1 66.2,294.3 67.0,294.4 67.8,294.6 68.6,294.8 69.4,294.9 70.2,295.1 71.0,295.3 71.8,295.5 72.6,295.7 73.4,295.9 74.2,296.1 75.0,296.3 75.8,296.6 76.6,296.8 77.4,297.1 78.2,297.4 79.0,297.8 79.8,298.1 80.6,298.6 81.4,299.0 82.2,299.5 83.0,300.1 83.8,300.6 84.6,301.2 85.4,301.8 86.2,302.4 87.0,303.0 87.8,303.6 88.6,304.2 89.4,304.9 90.2,305.5 91.0,306.1 91.8,306.7 92.6,307.4 93.4,308.0 94.2,308.6 95.0,309.2 95.8,309.8 96.6,310.4 97.4,311.0 98.2,311.7 99.0,312.3 99.8,313.0 100.6,313.6 101.4,314.3 102.2,315.0 103.0,315.6 103.8,316.3 104.6,317.0 105.4,317.7 106.3,318.4 107.1,319.1 107.9,319.8 108.7,320.5 109.5,321.2 110.3,321.9 111.1,322.7 111.9,323.4 112.7,324.2 113.5,324.9 114.3,325.7 115.1,326.5 115.9,327.2 116.7,328.0 117.5,328.8 118.3,329.6 119.1,330.4 119.9,331.2 120.7,332.0 121.5,332.8 122.3,333.6 123.1,334.4 123.9,335.2 124.7,335.9 125.5,336.7 126.3,337.5 127.1,338.3 127.9,339.1 128.7,339.9 129.5,340.7 130.3,341.5 131.1,342.3 131.9,343.1 132.7,343.9 133.5,344.6 134.3,345.4 135.1,346.2 135.9,347.0 136.7,347.8 137.5,348.6 138.3,349.4 139.1,350.1 139.9,350.9 140.7,351.7 141.5,352.4 142.3,353.2 143.1,353.9 143.9,354.7 144.7,355.4 145.6,356.2 146.4,356.9 147.2,357.7 148.0,358.4 148.8,359.2 149.6,359.9 150.4,360.6 151.2,361.4 152.0,362.1 152.8,362.8 153.6,363.5 154.4,364.2 155.2,364.9 156.0,365.6 156.8,366.2 157.6,366.9 158.4,367.6 159.2,368.2 160.0,368.9 160.8,369.5 161.6,370.1 162.4,370.8 163.2,371.4 164.0,372.0 164.8,372.6 165.6,373.2 166.4,373.8 167.2,374.4 168.0,375.0 168.8,375.6 169.6,376.2 170.4,376.7 171.2,377.3 172.0,377.8 172.8,378.4 173.6,378.9 174.4,379.4 175.2,380.0 176.0,380.5 176.8,381.0 177.6,381.5 178.4,382.0 179.2,382.5 180.0,383.0 180.8,383.5 181.6,383.9 182.4,384.4 183.2,384.9 184.0,385.3 184.8,385.8 185.6,386.3 186.5,386.7 187.3,387.2 188.1,387.6 188.9,388.0 189.7,388.5 190.5,388.9 191.3,389.3 192.1,389.8 192.9,390.2 193.7,390.7 194.5,391.1 195.3,391.5 196.1,392.0 196.9,392.4 197.7,392.8 198.5,393.2 199.3,393.6 200.1,394.0 200.9,394.4 201.7,394.8 202.5,395.1 203.3,395.5 204.1,395.8 204.9,396.1 205.7,396.4 206.5,396.7 207.3,397.0 208.1,397.3 208.9,397.6 209.7,397.8 210.5,398.1 211.3,398.3 212.1,398.6 212.9,398.8 213.7,399.1 214.5,399.3 215.3,399.5 216.1,399.8 216.9,400.0 217.7,400.2 218.5,400.4 219.3,400.6 220.1,400.8 220.9,401.0 221.7,401.2 222.5,401.3 223.3,401.5 224.1,401.7 224.9,401.8 225.8,402.0 226.6,402.2 227.4,402.3 228.2,402.5 229.0,402.6 229.8,402.8 230.6,402.9 231.4,403.1 232.2,403.2 233.0,403.3 233.8,403.5 234.6,403.6 235.4,403.7 236.2,403.8 237.0,403.9 237.8,404.0 238.6,404.1 239.4,404.2 240.2,404.2 241.0,404.3 241.8,404.4 242.6,404.5 243.4,404.6 244.2,404.6 245.0,404.7 245.8,404.8 246.6,404.9 247.4,404.9 248.2,405.0 249.0,405.1 249.8,405.1 250.6,405.2 251.4,405.3 252.2,405.3 253.0,405.4 253.8,405.4 254.6,405.5 255.4,405.6 256.2,405.6 257.0,405.7 257.8,405.7 258.6,405.8 259.4,405.8 260.2,405.9 261.0,405.9 261.8,406.0 262.6,406.0 263.4,406.0 264.2,406.1 265.0,406.1 265.8,406.2 266.7,406.2 267.5,406.2 268.3,406.3 269.1,406.3 269.9,406.4 270.7,406.4 271.5,406.4 272.3,406.5 273.1,406.5 273.9,406.5 274.7,406.6 275.5,406.6 276.3,406.6 277.1,406.7 277.9,406.7 278.7,406.7 279.5,406.8 280.3,406.8 281.1,406.8 281.9,406.9 282.7,406.9 283.5,406.9 284.3,406.9 285.1,407.0 285.9,407.0 286.7,407.0 287.5,407.0 288.3,407.1 289.1,407.1 289.9,407.1 290.7,407.1 291.5,407.2 292.3,407.2 293.1,407.2 293.9,407.2 294.7,407.2 295.5,407.2 296.3,407.3 297.1,407.3 297.9,407.3 298.7,407.3 299.5,407.3 300.3,407.3 301.1,407.3 301.9,407.3 302.7,407.3 303.5,407.3 304.3,407.3 305.1,407.3 305.9,407.3 306.8,407.3 307.6,407.3 308.4,407.3 309.2,407.3 310.0,407.3 310.8,407.3 311.6,407.3 312.4,407.3 313.2,407.3 314.0,407.3 314.8,407.3 315.6,407.3 316.4,407.3 317.2,407.3 318.0,407.3 318.8,407.3 319.6,407.3 320.4,407.3 321.2,407.3 322.0,407.3 322.8,407.3 323.6,407.3 324.4,407.3 325.2,407.3 326.0,407.3 326.8,407.3 327.6,407.3 328.4,407.3 329.2,407.3 330.0,407.3 330.8,407.3 331.6,407.3 332.4,407.3 333.2,407.3 334.0,407.3" stroke="#EB6235" stroke-width="2.2" stroke-linejoin="round" stroke-linecap="round"/>
</g>
<path d="M45.30 420.00v-3.60M45.30 234.50v3.60M61.34 420.00v-2.00M61.34 234.50v2.00M77.38 420.00v-2.00M77.38 234.50v2.00M93.42 420.00v-2.00M93.42 234.50v2.00M109.46 420.00v-3.60M109.46 234.50v3.60M125.50 420.00v-2.00M125.50 234.50v2.00M141.54 420.00v-2.00M141.54 234.50v2.00M157.58 420.00v-2.00M157.58 234.50v2.00M173.62 420.00v-3.60M173.62 234.50v3.60M189.66 420.00v-2.00M189.66 234.50v2.00M205.70 420.00v-2.00M205.70 234.50v2.00M221.74 420.00v-2.00M221.74 234.50v2.00M237.78 420.00v-3.60M237.78 234.50v3.60M253.82 420.00v-2.00M253.82 234.50v2.00M269.86 420.00v-2.00M269.86 234.50v2.00M285.90 420.00v-2.00M285.90 234.50v2.00M301.94 420.00v-3.60M301.94 234.50v3.60M317.98 420.00v-2.00M317.98 234.50v2.00M334.02 420.00v-2.00M334.02 234.50v2.00M39.30 416.76h2.00M340.40 416.76h-2.00M39.30 407.30h3.60M340.40 407.30h-3.60M39.30 397.84h2.00M340.40 397.84h-2.00M39.30 388.38h2.00M340.40 388.38h-2.00M39.30 378.92h2.00M340.40 378.92h-2.00M39.30 369.46h2.00M340.40 369.46h-2.00M39.30 360.00h3.60M340.40 360.00h-3.60M39.30 350.54h2.00M340.40 350.54h-2.00M39.30 341.08h2.00M340.40 341.08h-2.00M39.30 331.62h2.00M340.40 331.62h-2.00M39.30 322.16h2.00M340.40 322.16h-2.00M39.30 312.70h3.60M340.40 312.70h-3.60M39.30 303.24h2.00M340.40 303.24h-2.00M39.30 293.78h2.00M340.40 293.78h-2.00M39.30 284.32h2.00M340.40 284.32h-2.00M39.30 274.86h2.00M340.40 274.86h-2.00M39.30 265.40h3.60M340.40 265.40h-3.60M39.30 255.94h2.00M340.40 255.94h-2.00M39.30 246.48h2.00M340.40 246.48h-2.00M39.30 237.02h2.00M340.40 237.02h-2.00" stroke="#b4b4b4" stroke-width="0.85" fill="none"/>
<rect x="39.30" y="234.50" width="301.10" height="185.50" fill="none" stroke="#a9a9a9" stroke-width="1"/>
<text transform="translate(36.45 410.79) scale(1 1.060)" text-anchor="end" class="tk" style="font-size:9.40px">0.00</text>
<text transform="translate(36.45 363.49) scale(1 1.060)" text-anchor="end" class="tk" style="font-size:9.40px">0.05</text>
<text transform="translate(36.45 316.19) scale(1 1.060)" text-anchor="end" class="tk" style="font-size:9.40px">0.10</text>
<text transform="translate(36.45 268.89) scale(1 1.060)" text-anchor="end" class="tk" style="font-size:9.40px">0.15</text>
<text transform="translate(45.30 431.86) scale(1 1.060)" text-anchor="middle" class="tk" style="font-size:9.40px">0</text>
<text transform="translate(109.46 431.86) scale(1 1.060)" text-anchor="middle" class="tk" style="font-size:9.40px">2</text>
<text transform="translate(173.62 431.86) scale(1 1.060)" text-anchor="middle" class="tk" style="font-size:9.40px">4</text>
<text transform="translate(237.78 431.86) scale(1 1.060)" text-anchor="middle" class="tk" style="font-size:9.40px">6</text>
<text transform="translate(301.94 431.86) scale(1 1.060)" text-anchor="middle" class="tk" style="font-size:9.40px">8</text>
<line x1="161.80" y1="277.70" x2="178.60" y2="277.70" stroke="#5E81B5" stroke-width="2" stroke-linecap="round"/>
<text x="183.97" y="280.70" class="lg" style="font-size:9.37px">sample path1</text>
<line x1="161.80" y1="297.00" x2="178.60" y2="297.00" stroke="#E19C24" stroke-width="2" stroke-linecap="round"/>
<text x="183.97" y="300.00" class="lg" style="font-size:9.37px">sample path2</text>
<line x1="161.80" y1="316.30" x2="178.60" y2="316.30" stroke="#8FB032" stroke-width="2" stroke-linecap="round"/>
<text x="183.97" y="319.30" class="lg" style="font-size:9.37px">sample path3</text>
<line x1="161.80" y1="335.50" x2="178.60" y2="335.50" stroke="#EB6235" stroke-width="2" stroke-linecap="round"/>
<text x="183.97" y="338.50" class="lg" style="font-size:9.37px">deterministic Conductive heat</text>
<text x="316.60" y="262.70" class="pl" style="font-size:18.90px">(c)</text>
<g transform="translate(9.00 327.40) rotate(-90)">
<text x="-50.44" y="0.00" class="ml" style="font-size:8.85px">Conductive heat   ϕ</text>
<path d="M33.72 -2.96H37.35V-4.16L40.00 -2.39L37.35 -0.62V-1.81H33.72Z" fill="#1a1a1a"/>
</g>
<text x="157.87" y="449.20" class="ml" style="font-size:8.80px">distance   x</text>
<path d="M204.60 446.25H208.21V445.06L210.85 446.82L208.21 448.58V447.40H204.60Z" fill="#1a1a1a"/>
<clipPath id="clipd"><rect x="392.40" y="238.40" width="291.10" height="179.90"/></clipPath>
<line x1="392.40" y1="330.50" x2="683.50" y2="330.50" stroke="#dedede" stroke-width="0.9"/>
<g clip-path="url(#clipd)" fill="none">
<polyline points="398.3,364.3 400.9,314.8 403.4,292.8 406.0,295.4 408.5,269.1 411.1,277.9 413.7,267.3 416.2,250.9 418.8,256.0 421.4,246.8 423.9,255.7 426.5,250.3 429.0,253.7 431.6,256.3 434.2,273.1 436.7,270.8 439.3,282.2 441.9,280.7 444.4,303.4 447.0,309.7 449.5,302.2 452.1,309.0 454.7,319.0 457.2,328.9 459.8,358.0 462.4,340.0 464.9,363.3 467.5,359.6 470.0,381.9 472.6,369.0 475.2,389.6 477.7,402.8 480.3,379.5 482.8,404.2 485.4,380.5 488.0,404.1 490.5,388.9 493.1,410.6 495.7,385.2 498.2,408.6 500.8,391.6 503.3,399.1 505.9,385.1 508.5,402.1 511.0,386.9 513.6,394.3 516.2,379.8 518.7,387.0 521.3,377.5 523.8,379.3 526.4,375.5 529.0,368.1 531.5,368.0 534.1,362.2 536.7,361.3 539.2,355.3 541.8,352.3 544.3,351.3 546.9,347.7 549.5,344.2 552.0,341.2 554.6,340.2 557.2,336.3 559.7,335.4 562.3,333.4 564.8,331.0 567.4,328.8 570.0,327.9 572.5,326.0 575.1,325.4 577.6,323.8 580.2,322.8 582.8,322.5 585.3,321.5 587.9,321.9 590.5,320.7 593.0,321.0 595.6,320.0 598.1,320.7 600.7,319.8 603.3,320.7 605.8,320.2 608.4,321.1 611.0,320.7 613.5,321.4 616.1,321.8 618.6,321.6 621.2,321.8 623.8,323.1 626.3,323.4 628.9,323.6 631.5,324.4 634.0,324.4 636.6,325.0 639.1,326.1 641.7,325.9 644.3,326.6 646.8,326.6 649.4,327.5 651.9,327.5 654.5,328.3 657.1,328.2 659.6,329.1 662.2,329.3 664.8,329.8 667.3,329.7 669.9,330.3 672.4,330.2 675.0,331.0 677.6,331.2" stroke="#5E81B5" stroke-width="2.0" stroke-linejoin="bevel"/>
<polyline points="398.3,359.6 400.9,345.2 403.4,317.8 406.0,276.8 408.5,290.8 411.1,266.4 413.7,265.5 416.2,252.2 418.8,255.6 421.4,249.9 423.9,257.1 426.5,249.7 429.0,259.0 431.6,263.9 434.2,273.1 436.7,266.5 439.3,273.8 441.9,292.3 444.4,285.8 447.0,308.5 449.5,298.7 452.1,308.1 454.7,336.5 457.2,330.4 459.8,355.6 462.4,346.3 464.9,352.9 467.5,378.3 470.0,360.6 472.6,386.5 475.2,365.2 477.7,397.7 480.3,401.7 482.8,395.3 485.4,387.5 488.0,399.2 490.5,409.7 493.1,386.4 495.7,403.9 498.2,405.2 500.8,410.4 503.3,388.5 505.9,398.5 508.5,399.0 511.0,393.4 513.6,380.4 516.2,383.2 518.7,384.7 521.3,378.1 523.8,373.6 526.4,375.3 529.0,368.4 531.5,365.0 534.1,362.1 536.7,360.6 539.2,355.4 541.8,353.8 544.3,350.0 546.9,348.0 549.5,344.0 552.0,341.5 554.6,339.8 557.2,337.6 559.7,334.0 562.3,333.2 564.8,331.0 567.4,329.4 570.0,328.1 572.5,326.5 575.1,324.8 577.6,324.2 580.2,322.7 582.8,322.7 585.3,321.3 587.9,321.6 590.5,320.8 593.0,320.9 595.6,320.1 598.1,320.5 600.7,319.7 603.3,320.6 605.8,320.0 608.4,321.1 611.0,320.7 613.5,321.0 616.1,321.9 618.6,321.7 621.2,322.4 623.8,322.9 626.3,323.4 628.9,323.4 631.5,324.4 634.0,324.9 636.6,325.6 639.1,325.9 641.7,326.2 644.3,326.8 646.8,327.2 649.4,327.2 651.9,328.0 654.5,327.9 657.1,328.6 659.6,329.1 662.2,329.3 664.8,329.1 667.3,330.0 669.9,329.8 672.4,330.2 675.0,330.4 677.6,331.1" stroke="#E19C24" stroke-width="2.0" stroke-linejoin="bevel"/>
<polyline points="398.3,363.7 400.9,310.0 403.4,316.9 406.0,282.8 408.5,288.4 411.1,263.6 413.7,267.9 416.2,251.3 418.8,251.1 421.4,248.7 423.9,256.4 426.5,250.8 429.0,260.8 431.6,256.4 434.2,270.0 436.7,269.6 439.3,286.8 441.9,292.3 444.4,297.0 447.0,292.0 449.5,320.2 452.1,311.4 454.7,334.2 457.2,322.2 459.8,336.2 462.4,357.6 464.9,347.4 467.5,357.9 470.0,386.5 472.6,387.7 475.2,375.8 477.7,370.0 480.3,380.7 482.8,382.1 485.4,406.4 488.0,383.2 490.5,399.7 493.1,382.6 495.7,389.3 498.2,401.1 500.8,390.1 503.3,407.0 505.9,401.8 508.5,398.2 511.0,395.3 513.6,381.6 516.2,391.5 518.7,379.1 521.3,381.6 523.8,375.7 526.4,376.6 529.0,368.0 531.5,368.6 534.1,361.8 536.7,358.2 539.2,357.7 541.8,354.4 544.3,349.6 546.9,346.5 549.5,345.1 552.0,341.0 554.6,340.2 557.2,337.6 559.7,333.9 562.3,332.2 564.8,330.3 567.4,329.3 570.0,327.2 572.5,326.5 575.1,324.8 577.6,324.2 580.2,323.4 582.8,322.5 585.3,322.1 587.9,320.9 590.5,321.2 593.0,320.3 595.6,320.6 598.1,320.1 600.7,320.6 603.3,320.0 605.8,320.7 608.4,320.5 611.0,321.1 613.5,320.9 616.1,321.8 618.6,321.5 621.2,322.7 623.8,323.0 626.3,322.8 628.9,323.4 631.5,324.6 634.0,324.3 636.6,325.6 639.1,325.3 641.7,326.2 644.3,326.7 646.8,326.7 649.4,327.6 651.9,327.4 654.5,328.4 657.1,328.2 659.6,329.1 662.2,329.3 664.8,329.3 667.3,329.6 669.9,330.2 672.4,330.2 675.0,330.9 677.6,330.7" stroke="#8FB032" stroke-width="2.0" stroke-linejoin="bevel"/>
<polyline points="398.3,341.8 399.1,335.2 399.9,329.0 400.6,323.1 401.4,317.6 402.2,312.5 403.0,307.6 403.7,302.9 404.5,298.3 405.3,293.9 406.1,289.8 406.8,286.0 407.6,282.4 408.4,279.1 409.2,276.1 409.9,273.4 410.7,270.9 411.5,268.7 412.3,266.5 413.0,264.4 413.8,262.3 414.6,260.3 415.4,258.6 416.1,257.2 416.9,255.9 417.7,254.8 418.5,253.9 419.2,253.2 420.0,252.6 420.8,252.1 421.6,251.9 422.3,251.9 423.1,252.1 423.9,252.5 424.7,252.9 425.5,253.4 426.2,254.0 427.0,254.8 427.8,255.7 428.6,256.7 429.3,257.7 430.1,258.8 430.9,260.1 431.7,261.6 432.4,263.2 433.2,264.9 434.0,266.6 434.8,268.4 435.5,270.2 436.3,272.1 437.1,274.0 437.9,276.0 438.6,278.0 439.4,280.0 440.2,282.1 441.0,284.2 441.7,286.4 442.5,288.6 443.3,290.8 444.1,293.0 444.8,295.3 445.6,297.6 446.4,300.0 447.2,302.3 447.9,304.7 448.7,307.2 449.5,309.7 450.3,312.2 451.1,314.7 451.8,317.3 452.6,319.9 453.4,322.5 454.2,325.1 454.9,327.7 455.7,330.4 456.5,333.0 457.3,335.7 458.0,338.3 458.8,340.8 459.6,343.3 460.4,345.8 461.1,348.2 461.9,350.6 462.7,352.9 463.5,355.0 464.2,357.1 465.0,359.0 465.8,361.0 466.6,362.8 467.3,364.7 468.1,366.5 468.9,368.3 469.7,370.1 470.4,371.9 471.2,373.5 472.0,375.1 472.8,376.7 473.5,378.2 474.3,379.6 475.1,380.9 475.9,382.1 476.7,383.2 477.4,384.2 478.2,385.1 479.0,386.0 479.8,386.9 480.5,387.8 481.3,388.6 482.1,389.5 482.9,390.2 483.6,391.0 484.4,391.6 485.2,392.2 486.0,392.7 486.7,393.3 487.5,393.7 488.3,394.2 489.1,394.5 489.8,394.9 490.6,395.2 491.4,395.5 492.2,395.7 492.9,395.9 493.7,396.1 494.5,396.3 495.3,396.4 496.0,396.3 496.8,396.3 497.6,396.2 498.4,396.1 499.1,396.0 499.9,395.9 500.7,395.7 501.5,395.5 502.3,395.2 503.0,394.9 503.8,394.5 504.6,394.1 505.4,393.7 506.1,393.3 506.9,392.8 507.7,392.4 508.5,391.9 509.2,391.3 510.0,390.8 510.8,390.1 511.6,389.5 512.3,388.9 513.1,388.2 513.9,387.5 514.7,386.7 515.4,386.0 516.2,385.2 517.0,384.5 517.8,383.7 518.5,382.9 519.3,382.0 520.1,381.2 520.9,380.4 521.6,379.6 522.4,378.7 523.2,377.9 524.0,377.0 524.7,376.0 525.5,375.0 526.3,374.0 527.1,373.0 527.9,372.0 528.6,370.9 529.4,369.8 530.2,368.7 531.0,367.6 531.7,366.5 532.5,365.4 533.3,364.3 534.1,363.2 534.8,362.2 535.6,361.1 536.4,360.1 537.2,359.1 537.9,358.1 538.7,357.2 539.5,356.2 540.3,355.3 541.0,354.3 541.8,353.4 542.6,352.4 543.4,351.5 544.1,350.6 544.9,349.7 545.7,348.8 546.5,347.9 547.2,347.0 548.0,346.1 548.8,345.2 549.6,344.4 550.3,343.6 551.1,342.8 551.9,342.0 552.7,341.2 553.5,340.5 554.2,339.8 555.0,339.0 555.8,338.3 556.6,337.6 557.3,336.9 558.1,336.2 558.9,335.5 559.7,334.8 560.4,334.2 561.2,333.5 562.0,332.9 562.8,332.3 563.5,331.7 564.3,331.1 565.1,330.6 565.9,330.0 566.6,329.5 567.4,329.0 568.2,328.6 569.0,328.1 569.7,327.7 570.5,327.3 571.3,326.9 572.1,326.5 572.8,326.2 573.6,325.8 574.4,325.4 575.2,325.1 575.9,324.7 576.7,324.4 577.5,324.1 578.3,323.8 579.0,323.5 579.8,323.2 580.6,322.9 581.4,322.7 582.2,322.5 582.9,322.3 583.7,322.1 584.5,322.0 585.3,321.8 586.0,321.7 586.8,321.6 587.6,321.4 588.4,321.3 589.1,321.2 589.9,321.1 590.7,321.0 591.5,320.9 592.2,320.7 593.0,320.7 593.8,320.6 594.6,320.5 595.3,320.4 596.1,320.4 596.9,320.3 597.7,320.3 598.4,320.2 599.2,320.2 600.0,320.2 600.8,320.2 601.5,320.2 602.3,320.3 603.1,320.3 603.9,320.3 604.6,320.4 605.4,320.4 606.2,320.5 607.0,320.5 607.8,320.6 608.5,320.7 609.3,320.7 610.1,320.8 610.9,320.9 611.6,321.0 612.4,321.1 613.2,321.1 614.0,321.2 614.7,321.3 615.5,321.4 616.3,321.5 617.1,321.6 617.8,321.7 618.6,321.8 619.4,321.9 620.2,322.0 620.9,322.2 621.7,322.3 622.5,322.5 623.3,322.6 624.0,322.8 624.8,322.9 625.6,323.1 626.4,323.2 627.1,323.4 627.9,323.6 628.7,323.7 629.5,323.9 630.2,324.0 631.0,324.2 631.8,324.3 632.6,324.5 633.4,324.6 634.1,324.8 634.9,324.9 635.7,325.0 636.5,325.2 637.2,325.3 638.0,325.4 638.8,325.6 639.6,325.7 640.3,325.8 641.1,326.0 641.9,326.1 642.7,326.2 643.4,326.4 644.2,326.5 645.0,326.6 645.8,326.7 646.5,326.9 647.3,327.0 648.1,327.1 648.9,327.2 649.6,327.4 650.4,327.5 651.2,327.6 652.0,327.7 652.7,327.8 653.5,328.0 654.3,328.1 655.1,328.2 655.8,328.3 656.6,328.4 657.4,328.5 658.2,328.6 659.0,328.7 659.7,328.8 660.5,328.9 661.3,329.0 662.1,329.1 662.8,329.2 663.6,329.3 664.4,329.4 665.2,329.5 665.9,329.6 666.7,329.7 667.5,329.8 668.3,329.9 669.0,330.0 669.8,330.1 670.6,330.2 671.4,330.3 672.1,330.4 672.9,330.4 673.7,330.5 674.5,330.6 675.2,330.7 676.0,330.8 676.8,330.9 677.6,330.9" stroke="#EB6235" stroke-width="2.2" stroke-linejoin="round" stroke-linecap="round"/>
</g>
<path d="M398.30 418.30v-3.60M398.30 238.40v3.60M413.81 418.30v-2.00M413.81 238.40v2.00M429.33 418.30v-2.00M429.33 238.40v2.00M444.85 418.30v-2.00M444.85 238.40v2.00M460.36 418.30v-3.60M460.36 238.40v3.60M475.88 418.30v-2.00M475.88 238.40v2.00M491.39 418.30v-2.00M491.39 238.40v2.00M506.91 418.30v-2.00M506.91 238.40v2.00M522.42 418.30v-3.60M522.42 238.40v3.60M537.93 418.30v-2.00M537.93 238.40v2.00M553.45 418.30v-2.00M553.45 238.40v2.00M568.97 418.30v-2.00M568.97 238.40v2.00M584.48 418.30v-3.60M584.48 238.40v3.60M600.00 418.30v-2.00M600.00 238.40v2.00M615.51 418.30v-2.00M615.51 238.40v2.00M631.03 418.30v-2.00M631.03 238.40v2.00M646.54 418.30v-3.60M646.54 238.40v3.60M662.06 418.30v-2.00M662.06 238.40v2.00M677.57 418.30v-2.00M677.57 238.40v2.00M392.40 411.35h2.00M683.50 411.35h-2.00M392.40 404.00h2.00M683.50 404.00h-2.00M392.40 396.65h2.00M683.50 396.65h-2.00M392.40 389.30h3.60M683.50 389.30h-3.60M392.40 381.95h2.00M683.50 381.95h-2.00M392.40 374.60h2.00M683.50 374.60h-2.00M392.40 367.25h2.00M683.50 367.25h-2.00M392.40 359.90h3.60M683.50 359.90h-3.60M392.40 352.55h2.00M683.50 352.55h-2.00M392.40 345.20h2.00M683.50 345.20h-2.00M392.40 337.85h2.00M683.50 337.85h-2.00M392.40 330.50h3.60M683.50 330.50h-3.60M392.40 323.15h2.00M683.50 323.15h-2.00M392.40 315.80h2.00M683.50 315.80h-2.00M392.40 308.45h2.00M683.50 308.45h-2.00M392.40 301.10h3.60M683.50 301.10h-3.60M392.40 293.75h2.00M683.50 293.75h-2.00M392.40 286.40h2.00M683.50 286.40h-2.00M392.40 279.05h2.00M683.50 279.05h-2.00M392.40 271.70h3.60M683.50 271.70h-3.60M392.40 264.35h2.00M683.50 264.35h-2.00M392.40 257.00h2.00M683.50 257.00h-2.00M392.40 249.65h2.00M683.50 249.65h-2.00M392.40 242.30h3.60M683.50 242.30h-3.60" stroke="#b4b4b4" stroke-width="0.85" fill="none"/>
<rect x="392.40" y="238.40" width="291.10" height="179.90" fill="none" stroke="#a9a9a9" stroke-width="1"/>
<text transform="translate(389.55 392.60) scale(1 1.060)" text-anchor="end" class="tk" style="font-size:8.90px">−0.4</text>
<text transform="translate(389.55 363.20) scale(1 1.060)" text-anchor="end" class="tk" style="font-size:8.90px">−0.2</text>
<text transform="translate(389.55 333.80) scale(1 1.060)" text-anchor="end" class="tk" style="font-size:8.90px">0.0</text>
<text transform="translate(389.55 304.40) scale(1 1.060)" text-anchor="end" class="tk" style="font-size:8.90px">0.2</text>
<text transform="translate(389.55 275.00) scale(1 1.060)" text-anchor="end" class="tk" style="font-size:8.90px">0.4</text>
<text transform="translate(389.55 245.60) scale(1 1.060)" text-anchor="end" class="tk" style="font-size:8.90px">0.6</text>
<text transform="translate(398.30 429.55) scale(1 1.060)" text-anchor="middle" class="tk" style="font-size:8.90px">0</text>
<text transform="translate(460.36 429.55) scale(1 1.060)" text-anchor="middle" class="tk" style="font-size:8.90px">2</text>
<text transform="translate(522.42 429.55) scale(1 1.060)" text-anchor="middle" class="tk" style="font-size:8.90px">4</text>
<text transform="translate(584.48 429.55) scale(1 1.060)" text-anchor="middle" class="tk" style="font-size:8.90px">6</text>
<text transform="translate(646.54 429.55) scale(1 1.060)" text-anchor="middle" class="tk" style="font-size:8.90px">8</text>
<line x1="472.50" y1="250.90" x2="488.10" y2="250.90" stroke="#5E81B5" stroke-width="2" stroke-linecap="round"/>
<text x="493.78" y="253.90" class="lg" style="font-size:9.12px">sample path1</text>
<line x1="472.50" y1="269.20" x2="488.10" y2="269.20" stroke="#E19C24" stroke-width="2" stroke-linecap="round"/>
<text x="493.78" y="272.20" class="lg" style="font-size:9.12px">sample path2</text>
<line x1="472.50" y1="288.00" x2="488.10" y2="288.00" stroke="#8FB032" stroke-width="2" stroke-linecap="round"/>
<text x="493.78" y="291.00" class="lg" style="font-size:9.12px">sample path3</text>
<line x1="472.50" y1="306.70" x2="488.10" y2="306.70" stroke="#EB6235" stroke-width="2" stroke-linecap="round"/>
<text x="493.78" y="309.70" class="lg" style="font-size:9.12px">deterministic dispalcement</text>
<text x="657.10" y="263.20" class="pl" style="font-size:18.40px">(d)</text>
<g transform="translate(363.60 328.85) rotate(-90)">
<text x="-41.04" y="0.00" class="ml" style="font-size:8.55px">dispalcement   u</text>
<path d="M24.88 -2.86H28.39V-4.02L30.95 -2.31L28.39 -0.60V-1.75H24.88Z" fill="#1a1a1a"/>
</g>
<text x="507.19" y="446.80" class="ml" style="font-size:8.60px">distance   x</text>
<path d="M552.86 443.92H556.38V442.76L558.96 444.48L556.38 446.20V445.04H552.86Z" fill="#1a1a1a"/>
<clipPath id="clipe"><rect x="33.60" y="487.20" width="307.00" height="189.90"/></clipPath>
<g clip-path="url(#clipe)" fill="none">
<polyline points="39.9,667.4 42.9,660.9 45.9,652.2 48.8,641.5 51.8,629.3 54.8,618.6 57.8,602.0 60.7,590.9 63.7,570.6 66.7,566.2 69.7,545.2 72.6,547.7 75.6,527.7 78.6,529.6 81.6,527.4 84.5,508.0 87.5,521.9 90.5,499.8 93.5,517.3 96.4,499.5 99.4,517.4 102.4,502.1 105.4,521.6 108.3,505.6 111.3,524.9 114.3,518.8 117.3,531.3 120.2,535.5 123.2,541.2 126.2,532.0 129.2,563.4 132.1,545.7 135.1,565.0 138.1,557.0 141.1,570.3 144.0,568.4 147.0,581.1 150.0,575.2 153.0,591.2 155.9,595.8 158.9,589.4 161.9,593.7 164.9,599.0 167.8,601.2 170.8,614.1 173.8,608.2 176.8,613.4 179.7,624.3 182.7,629.0 185.7,622.0 188.7,633.8 191.6,629.0 194.6,636.1 197.6,632.3 200.6,639.6 203.5,636.9 206.5,639.2 209.5,643.6 212.5,646.8 215.5,642.5 218.4,647.1 221.4,648.1 224.4,649.3 227.4,650.2 230.3,651.4 233.3,650.9 236.3,652.8 239.3,653.0 242.2,654.2 245.2,654.8 248.2,655.5 251.2,656.3 254.1,656.9 257.1,657.6 260.1,658.2 263.1,658.8 266.0,659.3 269.0,659.8 272.0,660.3 275.0,660.7 277.9,661.2 280.9,661.6 283.9,662.0 286.9,662.4 289.8,662.7 292.8,663.1 295.8,663.4 298.8,663.7 301.7,664.0 304.7,664.2 307.7,664.5 310.7,664.7 313.6,665.0 316.6,665.2 319.6,665.4 322.6,665.6 325.5,665.8 328.5,666.0 331.5,666.1 334.5,666.3" stroke="#5E81B5" stroke-width="2.0" stroke-linejoin="bevel"/>
<polyline points="39.9,667.4 42.9,661.0 45.9,652.4 48.8,640.8 51.8,629.3 54.8,618.2 57.8,601.9 60.7,591.7 63.7,571.2 66.7,565.1 69.7,551.4 72.6,533.9 75.6,541.6 78.6,530.6 81.6,512.1 84.5,520.5 87.5,503.5 90.5,500.0 93.5,513.2 96.4,499.0 99.4,514.4 102.4,520.0 105.4,516.2 108.3,507.2 111.3,523.7 114.3,507.4 117.3,522.1 120.2,539.8 123.2,530.9 126.2,546.4 129.2,552.1 132.1,546.9 135.1,561.0 138.1,553.8 141.1,560.5 144.0,580.4 147.0,574.2 150.0,588.8 153.0,584.5 155.9,595.2 158.9,591.5 161.9,606.2 164.9,598.3 167.8,620.2 170.8,609.1 173.8,611.1 176.8,608.1 179.7,627.2 182.7,618.2 185.7,629.9 188.7,623.6 191.6,633.2 194.6,629.6 197.6,638.4 200.6,635.6 203.5,639.7 206.5,638.5 209.5,643.0 212.5,642.1 215.5,646.1 218.4,644.4 221.4,648.2 224.4,647.2 227.4,648.9 230.3,651.0 233.3,651.2 236.3,652.6 239.3,653.0 242.2,654.2 245.2,654.8 248.2,655.5 251.2,656.3 254.1,656.9 257.1,657.6 260.1,658.2 263.1,658.8 266.0,659.3 269.0,659.8 272.0,660.3 275.0,660.7 277.9,661.2 280.9,661.6 283.9,662.0 286.9,662.4 289.8,662.7 292.8,663.1 295.8,663.4 298.8,663.7 301.7,664.0 304.7,664.2 307.7,664.5 310.7,664.7 313.6,665.0 316.6,665.2 319.6,665.4 322.6,665.6 325.5,665.8 328.5,666.0 331.5,666.1 334.5,666.3" stroke="#E19C24" stroke-width="2.0" stroke-linejoin="bevel"/>
<polyline points="39.9,667.4 42.9,661.0 45.9,652.7 48.8,642.1 51.8,630.4 54.8,617.3 57.8,604.0 60.7,592.2 63.7,571.4 66.7,555.4 69.7,553.9 72.6,532.2 75.6,526.2 78.6,530.0 81.6,505.6 84.5,525.2 87.5,508.4 90.5,517.4 93.5,501.8 96.4,517.3 99.4,503.2 102.4,514.7 105.4,508.4 108.3,519.9 111.3,526.0 114.3,518.9 117.3,532.6 120.2,525.9 123.2,539.6 126.2,532.5 129.2,555.1 132.1,543.7 135.1,551.0 138.1,567.6 141.1,559.6 144.0,565.8 147.0,583.9 150.0,578.7 153.0,583.4 155.9,586.3 158.9,589.5 161.9,605.1 164.9,599.1 167.8,600.8 170.8,615.6 173.8,609.1 176.8,622.9 179.7,617.4 182.7,627.7 185.7,624.4 188.7,632.4 191.6,626.5 194.6,631.3 197.6,638.0 200.6,635.5 203.5,639.8 206.5,637.8 209.5,643.6 212.5,642.1 215.5,645.8 218.4,646.6 221.4,645.8 224.4,649.3 227.4,648.4 230.3,651.2 233.3,650.2 236.3,651.9 239.3,653.5 242.2,654.2 245.2,654.8 248.2,655.5 251.2,656.3 254.1,656.9 257.1,657.6 260.1,658.2 263.1,658.8 266.0,659.3 269.0,659.8 272.0,660.3 275.0,660.7 277.9,661.2 280.9,661.6 283.9,662.0 286.9,662.4 289.8,662.7 292.8,663.1 295.8,663.4 298.8,663.7 301.7,664.0 304.7,664.2 307.7,664.5 310.7,664.7 313.6,665.0 316.6,665.2 319.6,665.4 322.6,665.6 325.5,665.8 328.5,666.0 331.5,666.1 334.5,666.3" stroke="#8FB032" stroke-width="2.0" stroke-linejoin="bevel"/>
<polyline points="39.9,667.4 40.7,666.0 41.5,664.3 42.4,662.5 43.2,660.5 44.0,658.2 44.8,655.7 45.6,652.9 46.4,650.0 47.3,647.1 48.1,644.1 48.9,640.9 49.7,637.8 50.5,634.6 51.4,631.4 52.2,628.4 53.0,625.3 53.8,622.0 54.6,618.6 55.4,614.7 56.3,610.6 57.1,606.3 57.9,602.2 58.7,598.2 59.5,594.5 60.4,590.9 61.2,587.2 62.0,583.4 62.8,579.4 63.6,575.3 64.4,571.2 65.3,567.1 66.1,563.2 66.9,559.5 67.7,556.2 68.5,553.1 69.4,550.3 70.2,547.6 71.0,545.0 71.8,542.6 72.6,540.2 73.4,538.0 74.3,535.9 75.1,533.8 75.9,531.9 76.7,530.0 77.5,528.2 78.4,526.4 79.2,524.8 80.0,523.2 80.8,521.7 81.6,520.3 82.4,519.0 83.3,517.8 84.1,516.6 84.9,515.4 85.7,514.3 86.5,513.3 87.4,512.4 88.2,511.6 89.0,510.9 89.8,510.4 90.6,509.9 91.4,509.5 92.3,509.0 93.1,508.7 93.9,508.4 94.7,508.2 95.5,508.2 96.4,508.2 97.2,508.4 98.0,508.6 98.8,508.8 99.6,509.2 100.5,509.5 101.3,509.9 102.1,510.2 102.9,510.7 103.7,511.3 104.5,512.0 105.4,512.8 106.2,513.6 107.0,514.5 107.8,515.4 108.6,516.2 109.5,517.0 110.3,517.9 111.1,518.8 111.9,519.7 112.7,520.6 113.5,521.6 114.4,522.6 115.2,523.6 116.0,524.7 116.8,525.8 117.6,526.9 118.5,528.1 119.3,529.3 120.1,530.5 120.9,531.8 121.7,533.1 122.5,534.4 123.4,535.7 124.2,537.1 125.0,538.6 125.8,540.1 126.6,541.7 127.5,543.2 128.3,544.8 129.1,546.4 129.9,547.9 130.7,549.3 131.5,550.7 132.4,552.1 133.2,553.4 134.0,554.8 134.8,556.1 135.6,557.4 136.5,558.8 137.3,560.1 138.1,561.6 138.9,563.1 139.7,564.6 140.5,566.1 141.4,567.6 142.2,569.2 143.0,570.7 143.8,572.2 144.6,573.7 145.5,575.2 146.3,576.6 147.1,578.0 147.9,579.3 148.7,580.7 149.5,582.1 150.4,583.4 151.2,584.7 152.0,586.0 152.8,587.3 153.6,588.6 154.5,589.8 155.3,591.1 156.1,592.3 156.9,593.6 157.7,594.8 158.5,595.9 159.4,597.1 160.2,598.2 161.0,599.4 161.8,600.5 162.6,601.6 163.5,602.6 164.3,603.7 165.1,604.8 165.9,605.8 166.7,606.8 167.5,607.8 168.4,608.8 169.2,609.8 170.0,610.7 170.8,611.7 171.6,612.6 172.5,613.5 173.3,614.4 174.1,615.3 174.9,616.2 175.7,617.0 176.5,617.9 177.4,618.7 178.2,619.5 179.0,620.3 179.8,621.1 180.6,621.9 181.5,622.6 182.3,623.4 183.1,624.1 183.9,624.8 184.7,625.5 185.5,626.2 186.4,626.9 187.2,627.5 188.0,628.1 188.8,628.8 189.6,629.4 190.5,630.0 191.3,630.6 192.1,631.2 192.9,631.7 193.7,632.3 194.5,632.9 195.4,633.4 196.2,634.0 197.0,634.5 197.8,635.1 198.6,635.6 199.5,636.1 200.3,636.6 201.1,637.1 201.9,637.6 202.7,638.1 203.5,638.5 204.4,639.0 205.2,639.4 206.0,639.9 206.8,640.3 207.6,640.7 208.5,641.2 209.3,641.6 210.1,642.0 210.9,642.4 211.7,642.8 212.6,643.2 213.4,643.6 214.2,644.0 215.0,644.4 215.8,644.7 216.6,645.1 217.5,645.5 218.3,645.8 219.1,646.2 219.9,646.5 220.7,646.8 221.6,647.2 222.4,647.5 223.2,647.8 224.0,648.2 224.8,648.5 225.6,648.8 226.5,649.1 227.3,649.4 228.1,649.7 228.9,650.0 229.7,650.3 230.6,650.6 231.4,650.9 232.2,651.1 233.0,651.4 233.8,651.7 234.6,651.9 235.5,652.2 236.3,652.4 237.1,652.6 237.9,652.9 238.7,653.1 239.6,653.3 240.4,653.5 241.2,653.7 242.0,654.0 242.8,654.2 243.6,654.4 244.5,654.6 245.3,654.8 246.1,655.0 246.9,655.2 247.7,655.4 248.6,655.6 249.4,655.8 250.2,656.0 251.0,656.2 251.8,656.4 252.6,656.6 253.5,656.8 254.3,657.0 255.1,657.1 255.9,657.3 256.7,657.5 257.6,657.7 258.4,657.8 259.2,658.0 260.0,658.2 260.8,658.3 261.6,658.5 262.5,658.6 263.3,658.8 264.1,658.9 264.9,659.1 265.7,659.2 266.6,659.4 267.4,659.5 268.2,659.7 269.0,659.8 269.8,659.9 270.6,660.1 271.5,660.2 272.3,660.3 273.1,660.5 273.9,660.6 274.7,660.7 275.6,660.8 276.4,660.9 277.2,661.1 278.0,661.2 278.8,661.3 279.6,661.4 280.5,661.5 281.3,661.6 282.1,661.8 282.9,661.9 283.7,662.0 284.6,662.1 285.4,662.2 286.2,662.3 287.0,662.4 287.8,662.5 288.6,662.6 289.5,662.7 290.3,662.8 291.1,662.9 291.9,663.0 292.7,663.1 293.6,663.2 294.4,663.3 295.2,663.3 296.0,663.4 296.8,663.5 297.6,663.6 298.5,663.7 299.3,663.8 300.1,663.8 300.9,663.9 301.7,664.0 302.6,664.1 303.4,664.1 304.2,664.2 305.0,664.3 305.8,664.3 306.6,664.4 307.5,664.5 308.3,664.6 309.1,664.6 309.9,664.7 310.7,664.8 311.6,664.8 312.4,664.9 313.2,665.0 314.0,665.0 314.8,665.1 315.7,665.1 316.5,665.2 317.3,665.3 318.1,665.3 318.9,665.4 319.7,665.4 320.6,665.5 321.4,665.5 322.2,665.6 323.0,665.7 323.8,665.7 324.7,665.8 325.5,665.8 326.3,665.9 327.1,665.9 327.9,665.9 328.7,666.0 329.6,666.0 330.4,666.1 331.2,666.1 332.0,666.2 332.8,666.2 333.7,666.2 334.5,666.3" stroke="#EB6235" stroke-width="2.2" stroke-linejoin="round" stroke-linecap="round"/>
</g>
<path d="M39.90 677.10v-3.60M39.90 487.20v3.60M56.27 677.10v-2.00M56.27 487.20v2.00M72.63 677.10v-2.00M72.63 487.20v2.00M89.00 677.10v-2.00M89.00 487.20v2.00M105.36 677.10v-3.60M105.36 487.20v3.60M121.72 677.10v-2.00M121.72 487.20v2.00M138.09 677.10v-2.00M138.09 487.20v2.00M154.45 677.10v-2.00M154.45 487.20v2.00M170.82 677.10v-3.60M170.82 487.20v3.60M187.19 677.10v-2.00M187.19 487.20v2.00M203.55 677.10v-2.00M203.55 487.20v2.00M219.91 677.10v-2.00M219.91 487.20v2.00M236.28 677.10v-3.60M236.28 487.20v3.60M252.64 677.10v-2.00M252.64 487.20v2.00M269.01 677.10v-2.00M269.01 487.20v2.00M285.37 677.10v-2.00M285.37 487.20v2.00M301.74 677.10v-3.60M301.74 487.20v3.60M318.10 677.10v-2.00M318.10 487.20v2.00M334.47 677.10v-2.00M334.47 487.20v2.00M33.60 676.90h2.00M340.60 676.90h-2.00M33.60 667.40h3.60M340.60 667.40h-3.60M33.60 657.90h2.00M340.60 657.90h-2.00M33.60 648.40h2.00M340.60 648.40h-2.00M33.60 638.90h2.00M340.60 638.90h-2.00M33.60 629.40h3.60M340.60 629.40h-3.60M33.60 619.90h2.00M340.60 619.90h-2.00M33.60 610.40h2.00M340.60 610.40h-2.00M33.60 600.90h2.00M340.60 600.90h-2.00M33.60 591.40h3.60M340.60 591.40h-3.60M33.60 581.90h2.00M340.60 581.90h-2.00M33.60 572.40h2.00M340.60 572.40h-2.00M33.60 562.90h2.00M340.60 562.90h-2.00M33.60 553.40h3.60M340.60 553.40h-3.60M33.60 543.90h2.00M340.60 543.90h-2.00M33.60 534.40h2.00M340.60 534.40h-2.00M33.60 524.90h2.00M340.60 524.90h-2.00M33.60 515.40h3.60M340.60 515.40h-3.60M33.60 505.90h2.00M340.60 505.90h-2.00M33.60 496.40h2.00M340.60 496.40h-2.00" stroke="#b4b4b4" stroke-width="0.85" fill="none"/>
<rect x="33.60" y="487.20" width="307.00" height="189.90" fill="none" stroke="#a9a9a9" stroke-width="1"/>
<text transform="translate(30.75 670.92) scale(1 1.060)" text-anchor="end" class="tk" style="font-size:9.50px">0.0</text>
<text transform="translate(30.75 632.92) scale(1 1.060)" text-anchor="end" class="tk" style="font-size:9.50px">0.2</text>
<text transform="translate(30.75 594.92) scale(1 1.060)" text-anchor="end" class="tk" style="font-size:9.50px">0.4</text>
<text transform="translate(30.75 556.92) scale(1 1.060)" text-anchor="end" class="tk" style="font-size:9.50px">0.6</text>
<text transform="translate(30.75 518.92) scale(1 1.060)" text-anchor="end" class="tk" style="font-size:9.50px">0.8</text>
<text transform="translate(39.90 689.08) scale(1 1.060)" text-anchor="middle" class="tk" style="font-size:9.50px">0</text>
<text transform="translate(105.36 689.08) scale(1 1.060)" text-anchor="middle" class="tk" style="font-size:9.50px">2</text>
<text transform="translate(170.82 689.08) scale(1 1.060)" text-anchor="middle" class="tk" style="font-size:9.50px">4</text>
<text transform="translate(236.28 689.08) scale(1 1.060)" text-anchor="middle" class="tk" style="font-size:9.50px">6</text>
<text transform="translate(301.74 689.08) scale(1 1.060)" text-anchor="middle" class="tk" style="font-size:9.50px">8</text>
<line x1="175.00" y1="528.50" x2="192.30" y2="528.50" stroke="#5E81B5" stroke-width="2" stroke-linecap="round"/>
<text x="197.57" y="531.30" class="lg" style="font-size:9.42px">sample path1</text>
<line x1="175.00" y1="548.00" x2="192.30" y2="548.00" stroke="#E19C24" stroke-width="2" stroke-linecap="round"/>
<text x="197.57" y="550.80" class="lg" style="font-size:9.42px">sample path2</text>
<line x1="175.00" y1="567.40" x2="192.30" y2="567.40" stroke="#8FB032" stroke-width="2" stroke-linecap="round"/>
<text x="197.57" y="570.20" class="lg" style="font-size:9.42px">sample path3</text>
<line x1="175.00" y1="586.40" x2="192.30" y2="586.40" stroke="#EB6235" stroke-width="2" stroke-linecap="round"/>
<text x="197.57" y="589.20" class="lg" style="font-size:9.42px">deterministic normal stress</text>
<text x="312.70" y="521.80" class="pl" style="font-size:19.30px">(e)</text>
<g transform="translate(8.90 582.05) rotate(-90)">
<text x="-50.10" y="0.00" class="ml" style="font-size:8.79px">normal stress   σxx</text>
<path d="M22.94 -2.94H26.55V-4.13L29.18 -2.37L26.55 -0.62V-1.80H22.94Z" fill="#1a1a1a"/>
</g>
<text x="155.27" y="705.80" class="ml" style="font-size:8.87px">distance   x</text>
<path d="M202.37 702.83H206.00V701.63L208.67 703.41L206.00 705.18V703.98H202.37Z" fill="#1a1a1a"/>
<clipPath id="clipf"><rect x="392.40" y="493.50" width="291.10" height="179.90"/></clipPath>
<line x1="392.40" y1="579.37" x2="683.50" y2="579.37" stroke="#dedede" stroke-width="0.9"/>
<g clip-path="url(#clipf)" fill="none">
<polyline points="398.3,579.4 400.2,562.8 402.1,549.5 403.9,557.4 405.8,528.2 407.7,511.9 409.6,511.7 411.4,559.1 413.3,526.4 415.2,550.0 417.1,529.0 418.9,556.4 420.8,526.6 422.7,568.0 424.6,547.6 426.4,558.1 428.3,560.1 430.2,597.2 432.1,600.7 433.9,599.6 435.8,584.1 437.7,599.9 439.6,609.3 441.4,600.3 443.3,613.1 445.2,606.5 447.1,620.2 448.9,626.4 450.8,617.2 452.7,630.2 454.6,616.6 456.4,619.4 458.3,637.1 460.2,629.6 462.1,643.8 463.9,628.5 465.8,631.1 467.7,640.7 469.6,626.8 471.4,641.3 473.3,628.5 475.2,648.9 477.1,664.9 478.9,628.8 480.8,641.5 482.7,618.5 484.6,637.6 486.4,620.4 488.3,642.5 490.2,618.3 492.1,639.4 494.0,615.3 495.8,639.2 497.7,614.5 499.6,630.0 501.5,611.6 503.3,628.3 505.2,608.4 507.1,609.8 509.0,622.3 510.8,628.3 512.7,622.9 514.6,625.7 516.5,608.8 518.3,616.0 520.2,600.8 522.1,612.8 524.0,596.9 525.8,597.0 527.7,611.5 529.6,599.5 531.5,611.9 533.3,598.1 535.2,605.7 537.1,604.1 539.0,593.2 540.8,602.8 542.7,589.0 544.6,603.7 546.5,588.9 548.3,598.0 550.2,588.6 552.1,587.0 554.0,599.9 555.8,587.5 557.7,595.2 559.6,588.5 561.5,586.6 563.3,594.7 565.2,587.1 567.1,592.9 569.0,585.7 570.8,592.0 572.7,584.6 574.6,591.0 576.5,585.6 578.3,583.5 580.2,589.4 582.1,583.7 584.0,586.4 585.9,586.0 587.7,583.3 589.6,585.8 591.5,582.8 593.4,585.2 595.2,581.9 597.1,584.7 599.0,583.6 600.9,581.4 602.7,583.0 604.6,580.9 606.5,582.6 608.4,582.4 610.2,582.1 612.1,580.5 614.0,582.0 615.9,580.3 617.7,580.6 619.6,581.1 621.5,580.0 623.4,581.1 625.2,580.1 627.1,581.2 629.0,579.6 630.9,581.2 632.7,579.8 634.6,580.7 636.5,579.5 638.4,580.4 640.2,579.5 642.1,580.6 644.0,579.6 645.9,580.1 647.7,579.4 649.6,580.3 651.5,579.3 653.4,579.9 655.2,579.3 657.1,580.1 659.0,580.0 660.9,579.3 662.7,580.1 664.6,579.8 666.5,579.2 668.4,580.0 670.2,579.7 672.1,579.0 674.0,578.9 675.9,579.0 677.8,579.6" stroke="#5E81B5" stroke-width="2.0" stroke-linejoin="bevel"/>
<polyline points="398.3,579.4 400.2,560.2 402.1,572.7 403.9,528.3 405.8,562.1 407.7,519.0 409.6,519.8 411.4,546.1 413.3,513.2 415.2,559.2 417.1,533.5 418.9,567.4 420.8,539.9 422.7,568.8 424.6,535.3 426.4,584.3 428.3,548.8 430.2,597.7 432.1,572.9 433.9,577.3 435.8,602.9 437.7,586.0 439.6,605.4 441.4,599.5 443.3,600.4 445.2,615.3 447.1,608.5 448.9,623.9 450.8,617.2 452.7,632.9 454.6,621.4 456.4,623.5 458.3,643.2 460.2,626.3 462.1,643.1 463.9,624.3 465.8,640.7 467.7,624.4 469.6,643.1 471.4,642.9 473.3,625.6 475.2,642.6 477.1,619.8 478.9,650.3 480.8,622.3 482.7,642.3 484.6,642.8 486.4,621.7 488.3,636.3 490.2,636.5 492.1,618.0 494.0,634.7 495.8,621.2 497.7,637.1 499.6,618.4 501.5,627.6 503.3,608.6 505.2,627.0 507.1,607.5 509.0,611.8 510.8,626.1 512.7,605.7 514.6,624.9 516.5,617.1 518.3,603.7 520.2,619.5 522.1,603.5 524.0,600.0 525.8,610.6 527.7,598.9 529.6,611.6 531.5,595.7 533.3,605.9 535.2,596.6 537.1,594.2 539.0,610.2 540.8,589.5 542.7,600.2 544.6,589.0 546.5,603.8 548.3,601.5 550.2,590.5 552.1,599.8 554.0,588.8 555.8,596.3 557.7,586.2 559.6,596.8 561.5,593.8 563.3,593.0 565.2,586.6 567.1,587.4 569.0,586.2 570.8,591.0 572.7,591.0 574.6,586.0 576.5,588.5 578.3,584.6 580.2,588.3 582.1,582.8 584.0,588.1 585.9,583.2 587.7,586.9 589.6,585.1 591.5,585.3 593.4,582.0 595.2,584.6 597.1,583.6 599.0,581.6 600.9,583.3 602.7,581.2 604.6,582.6 606.5,581.2 608.4,580.9 610.2,581.8 612.1,581.9 614.0,580.2 615.9,581.6 617.7,580.5 619.6,581.5 621.5,580.0 623.4,581.3 625.2,579.9 627.1,579.6 629.0,580.7 630.9,579.8 632.7,579.7 634.6,580.5 636.5,580.5 638.4,579.3 640.2,580.5 642.1,579.3 644.0,579.5 645.9,580.3 647.7,579.1 649.6,580.0 651.5,579.1 653.4,580.0 655.2,579.3 657.1,579.9 659.0,579.8 660.9,579.9 662.7,579.3 664.6,579.8 666.5,579.9 668.4,579.0 670.2,579.9 672.1,579.7 674.0,579.2 675.9,579.2 677.8,579.6" stroke="#E19C24" stroke-width="2.0" stroke-linejoin="bevel"/>
<polyline points="398.3,579.4 400.2,582.0 402.1,551.7 403.9,564.1 405.8,523.3 407.7,559.2 409.6,519.0 411.4,556.7 413.3,504.4 415.2,518.9 417.1,531.0 418.9,554.8 420.8,534.7 422.7,568.7 424.6,549.1 426.4,583.9 428.3,559.5 430.2,588.6 432.1,570.2 433.9,598.3 435.8,577.5 437.7,591.4 439.6,605.3 441.4,612.0 443.3,603.9 445.2,604.5 447.1,607.5 448.9,622.6 450.8,619.2 452.7,631.4 454.6,624.5 456.4,636.6 458.3,628.6 460.2,641.4 462.1,640.8 463.9,625.3 465.8,623.3 467.7,648.0 469.6,628.5 471.4,643.3 473.3,629.1 475.2,610.9 477.1,629.1 478.9,629.5 480.8,618.7 482.7,628.0 484.6,640.5 486.4,626.8 488.3,645.5 490.2,620.0 492.1,643.0 494.0,616.6 495.8,636.7 497.7,616.9 499.6,617.2 501.5,634.6 503.3,627.8 505.2,624.9 507.1,628.1 509.0,612.2 510.8,622.6 512.7,603.7 514.6,623.7 516.5,608.3 518.3,622.5 520.2,599.6 522.1,619.9 524.0,600.3 525.8,612.5 527.7,595.7 529.6,613.9 531.5,594.1 533.3,611.4 535.2,597.3 537.1,602.8 539.0,591.8 540.8,594.1 542.7,604.1 544.6,588.5 546.5,601.6 548.3,590.9 550.2,597.6 552.1,590.3 554.0,598.9 555.8,598.4 557.7,594.2 559.6,587.0 561.5,585.1 563.3,595.5 565.2,591.5 567.1,585.7 569.0,592.9 570.8,584.7 572.7,584.8 574.6,585.3 576.5,588.4 578.3,584.2 580.2,588.8 582.1,588.1 584.0,584.0 585.9,587.8 587.7,583.2 589.6,585.6 591.5,582.3 593.4,582.3 595.2,584.9 597.1,582.2 599.0,583.6 600.9,583.1 602.7,581.8 604.6,582.4 606.5,580.6 608.4,582.7 610.2,582.7 612.1,580.9 614.0,580.7 615.9,581.8 617.7,580.6 619.6,581.5 621.5,580.4 623.4,581.3 625.2,580.1 627.1,579.7 629.0,580.9 630.9,579.9 632.7,580.8 634.6,580.4 636.5,579.8 638.4,579.6 640.2,580.5 642.1,579.4 644.0,580.5 645.9,579.5 647.7,579.4 649.6,580.1 651.5,579.5 653.4,579.9 655.2,579.4 657.1,579.8 659.0,580.1 660.9,579.3 662.7,579.8 664.6,579.0 666.5,580.0 668.4,579.0 670.2,579.9 672.1,578.8 674.0,579.8 675.9,578.9 677.8,579.8" stroke="#8FB032" stroke-width="2.0" stroke-linejoin="bevel"/>
<polyline points="398.3,579.4 399.1,576.9 399.9,573.6 400.6,569.8 401.4,564.8 402.2,558.6 403.0,553.2 403.7,549.4 404.5,546.1 405.3,543.2 406.1,540.7 406.8,538.8 407.6,537.1 408.4,535.4 409.2,534.1 409.9,533.3 410.7,533.2 411.5,533.5 412.3,534.0 413.0,534.7 413.8,535.4 414.6,536.4 415.4,537.8 416.2,539.5 416.9,541.3 417.7,543.1 418.5,545.0 419.3,547.0 420.0,549.1 420.8,551.1 421.6,553.2 422.4,555.3 423.1,557.3 423.9,559.4 424.7,561.5 425.5,563.7 426.2,565.8 427.0,567.9 427.8,570.1 428.6,572.1 429.4,574.1 430.1,576.1 430.9,578.1 431.7,580.1 432.5,582.2 433.2,584.4 434.0,586.7 434.8,588.9 435.6,590.9 436.3,592.8 437.1,594.5 437.9,596.2 438.7,597.9 439.4,599.7 440.2,601.5 441.0,603.3 441.8,605.1 442.5,606.8 443.3,608.6 444.1,610.3 444.9,612.0 445.7,613.6 446.4,615.1 447.2,616.4 448.0,617.7 448.8,618.9 449.5,620.1 450.3,621.3 451.1,622.5 451.9,623.7 452.6,624.9 453.4,626.0 454.2,627.1 455.0,628.1 455.7,629.0 456.5,630.0 457.3,630.9 458.1,631.7 458.8,632.4 459.6,633.0 460.4,633.4 461.2,633.8 462.0,634.1 462.7,634.5 463.5,634.7 464.3,635.0 465.1,635.2 465.8,635.4 466.6,635.4 467.4,635.5 468.2,635.5 468.9,635.5 469.7,635.5 470.5,635.5 471.3,635.5 472.0,635.5 472.8,635.5 473.6,635.5 474.4,635.5 475.1,635.5 475.9,635.5 476.7,635.4 477.5,635.3 478.3,635.1 479.0,634.9 479.8,634.7 480.6,634.4 481.4,634.1 482.1,633.8 482.9,633.5 483.7,633.2 484.5,632.9 485.2,632.6 486.0,632.2 486.8,631.8 487.6,631.4 488.3,631.0 489.1,630.6 489.9,630.2 490.7,629.7 491.5,629.3 492.2,628.8 493.0,628.4 493.8,627.9 494.6,627.4 495.3,626.8 496.1,626.3 496.9,625.8 497.7,625.3 498.4,624.8 499.2,624.3 500.0,623.7 500.8,623.2 501.5,622.7 502.3,622.2 503.1,621.7 503.9,621.1 504.6,620.6 505.4,620.1 506.2,619.6 507.0,619.0 507.8,618.5 508.5,618.0 509.3,617.5 510.1,616.9 510.9,616.4 511.6,615.9 512.4,615.4 513.2,614.9 514.0,614.4 514.7,613.9 515.5,613.4 516.3,612.9 517.1,612.4 517.8,611.9 518.6,611.4 519.4,610.9 520.2,610.4 520.9,609.8 521.7,609.3 522.5,608.8 523.3,608.2 524.1,607.7 524.8,607.1 525.6,606.6 526.4,606.0 527.2,605.5 527.9,605.0 528.7,604.5 529.5,604.1 530.3,603.6 531.0,603.1 531.8,602.7 532.6,602.2 533.4,601.8 534.1,601.4 534.9,601.0 535.7,600.6 536.5,600.2 537.2,599.8 538.0,599.4 538.8,599.0 539.6,598.7 540.4,598.3 541.1,598.0 541.9,597.6 542.7,597.2 543.5,596.9 544.2,596.5 545.0,596.2 545.8,595.9 546.6,595.5 547.3,595.2 548.1,594.9 548.9,594.6 549.7,594.4 550.4,594.1 551.2,593.9 552.0,593.7 552.8,593.5 553.5,593.3 554.3,593.1 555.1,592.9 555.9,592.6 556.7,592.4 557.4,592.2 558.2,591.9 559.0,591.7 559.8,591.4 560.5,591.2 561.3,590.9 562.1,590.7 562.9,590.5 563.6,590.2 564.4,590.0 565.2,589.7 566.0,589.5 566.7,589.3 567.5,589.1 568.3,588.9 569.1,588.7 569.9,588.5 570.6,588.3 571.4,588.1 572.2,587.9 573.0,587.7 573.7,587.6 574.5,587.4 575.3,587.2 576.1,587.1 576.8,586.9 577.6,586.7 578.4,586.6 579.2,586.4 579.9,586.3 580.7,586.1 581.5,586.0 582.3,585.8 583.0,585.7 583.8,585.5 584.6,585.4 585.4,585.2 586.2,585.1 586.9,584.9 587.7,584.8 588.5,584.6 589.3,584.5 590.0,584.3 590.8,584.2 591.6,584.1 592.4,583.9 593.1,583.8 593.9,583.6 594.7,583.5 595.5,583.3 596.2,583.2 597.0,583.1 597.8,582.9 598.6,582.8 599.3,582.7 600.1,582.6 600.9,582.5 601.7,582.3 602.5,582.2 603.2,582.1 604.0,582.0 604.8,581.9 605.6,581.8 606.3,581.8 607.1,581.7 607.9,581.6 608.7,581.6 609.4,581.5 610.2,581.4 611.0,581.4 611.8,581.3 612.5,581.3 613.3,581.2 614.1,581.1 614.9,581.1 615.6,581.0 616.4,581.0 617.2,580.9 618.0,580.9 618.8,580.8 619.5,580.8 620.3,580.8 621.1,580.7 621.9,580.7 622.6,580.6 623.4,580.6 624.2,580.6 625.0,580.5 625.7,580.5 626.5,580.5 627.3,580.4 628.1,580.4 628.8,580.4 629.6,580.3 630.4,580.3 631.2,580.3 632.0,580.2 632.7,580.2 633.5,580.2 634.3,580.2 635.1,580.1 635.8,580.1 636.6,580.1 637.4,580.1 638.2,580.0 638.9,580.0 639.7,580.0 640.5,580.0 641.3,579.9 642.0,579.9 642.8,579.9 643.6,579.9 644.4,579.9 645.1,579.8 645.9,579.8 646.7,579.8 647.5,579.8 648.3,579.8 649.0,579.7 649.8,579.7 650.6,579.7 651.4,579.7 652.1,579.7 652.9,579.7 653.7,579.7 654.5,579.6 655.2,579.6 656.0,579.6 656.8,579.6 657.6,579.6 658.3,579.6 659.1,579.6 659.9,579.6 660.7,579.5 661.4,579.5 662.2,579.5 663.0,579.5 663.8,579.5 664.6,579.5 665.3,579.5 666.1,579.5 666.9,579.5 667.7,579.5 668.4,579.4 669.2,579.4 670.0,579.4 670.8,579.4 671.5,579.4 672.3,579.4 673.1,579.4 673.9,579.4 674.6,579.4 675.4,579.4 676.2,579.4 677.0,579.4 677.8,579.4" stroke="#EB6235" stroke-width="2.2" stroke-linejoin="round" stroke-linecap="round"/>
</g>
<path d="M398.30 673.40v-3.60M398.30 493.50v3.60M413.82 673.40v-2.00M413.82 493.50v2.00M429.35 673.40v-2.00M429.35 493.50v2.00M444.88 673.40v-2.00M444.88 493.50v2.00M460.40 673.40v-3.60M460.40 493.50v3.60M475.93 673.40v-2.00M475.93 493.50v2.00M491.45 673.40v-2.00M491.45 493.50v2.00M506.98 673.40v-2.00M506.98 493.50v2.00M522.50 673.40v-3.60M522.50 493.50v3.60M538.02 673.40v-2.00M538.02 493.50v2.00M553.55 673.40v-2.00M553.55 493.50v2.00M569.08 673.40v-2.00M569.08 493.50v2.00M584.60 673.40v-3.60M584.60 493.50v3.60M600.12 673.40v-2.00M600.12 493.50v2.00M615.65 673.40v-2.00M615.65 493.50v2.00M631.17 673.40v-2.00M631.17 493.50v2.00M646.70 673.40v-3.60M646.70 493.50v3.60M662.23 673.40v-2.00M662.23 493.50v2.00M677.75 673.40v-2.00M677.75 493.50v2.00M392.40 669.37h3.60M683.50 669.37h-3.60M392.40 661.87h2.00M683.50 661.87h-2.00M392.40 654.37h2.00M683.50 654.37h-2.00M392.40 646.87h2.00M683.50 646.87h-2.00M392.40 639.37h3.60M683.50 639.37h-3.60M392.40 631.87h2.00M683.50 631.87h-2.00M392.40 624.37h2.00M683.50 624.37h-2.00M392.40 616.87h2.00M683.50 616.87h-2.00M392.40 609.37h3.60M683.50 609.37h-3.60M392.40 601.87h2.00M683.50 601.87h-2.00M392.40 594.37h2.00M683.50 594.37h-2.00M392.40 586.87h2.00M683.50 586.87h-2.00M392.40 579.37h3.60M683.50 579.37h-3.60M392.40 571.87h2.00M683.50 571.87h-2.00M392.40 564.37h2.00M683.50 564.37h-2.00M392.40 556.87h2.00M683.50 556.87h-2.00M392.40 549.37h3.60M683.50 549.37h-3.60M392.40 541.87h2.00M683.50 541.87h-2.00M392.40 534.37h2.00M683.50 534.37h-2.00M392.40 526.87h2.00M683.50 526.87h-2.00M392.40 519.37h3.60M683.50 519.37h-3.60M392.40 511.87h2.00M683.50 511.87h-2.00M392.40 504.37h2.00M683.50 504.37h-2.00M392.40 496.87h2.00M683.50 496.87h-2.00" stroke="#b4b4b4" stroke-width="0.85" fill="none"/>
<rect x="392.40" y="493.50" width="291.10" height="179.90" fill="none" stroke="#a9a9a9" stroke-width="1"/>
<text transform="translate(389.55 672.67) scale(1 1.060)" text-anchor="end" class="tk" style="font-size:8.90px">−0.6</text>
<text transform="translate(389.55 642.67) scale(1 1.060)" text-anchor="end" class="tk" style="font-size:8.90px">−0.4</text>
<text transform="translate(389.55 612.67) scale(1 1.060)" text-anchor="end" class="tk" style="font-size:8.90px">−0.2</text>
<text transform="translate(389.55 582.67) scale(1 1.060)" text-anchor="end" class="tk" style="font-size:8.90px">0.0</text>
<text transform="translate(389.55 552.67) scale(1 1.060)" text-anchor="end" class="tk" style="font-size:8.90px">0.2</text>
<text transform="translate(389.55 522.67) scale(1 1.060)" text-anchor="end" class="tk" style="font-size:8.90px">0.4</text>
<text transform="translate(398.30 684.65) scale(1 1.060)" text-anchor="middle" class="tk" style="font-size:8.90px">0</text>
<text transform="translate(460.40 684.65) scale(1 1.060)" text-anchor="middle" class="tk" style="font-size:8.90px">2</text>
<text transform="translate(522.50 684.65) scale(1 1.060)" text-anchor="middle" class="tk" style="font-size:8.90px">4</text>
<text transform="translate(584.60 684.65) scale(1 1.060)" text-anchor="middle" class="tk" style="font-size:8.90px">6</text>
<text transform="translate(646.70 684.65) scale(1 1.060)" text-anchor="middle" class="tk" style="font-size:8.90px">8</text>
<line x1="469.80" y1="511.00" x2="485.40" y2="511.00" stroke="#5E81B5" stroke-width="2" stroke-linecap="round"/>
<text x="490.98" y="514.00" class="lg" style="font-size:9.11px">sample path1</text>
<line x1="469.80" y1="529.90" x2="485.40" y2="529.90" stroke="#E19C24" stroke-width="2" stroke-linecap="round"/>
<text x="490.98" y="532.90" class="lg" style="font-size:9.11px">sample path2</text>
<line x1="469.80" y1="548.50" x2="485.40" y2="548.50" stroke="#8FB032" stroke-width="2" stroke-linecap="round"/>
<text x="490.98" y="551.50" class="lg" style="font-size:9.11px">sample path3</text>
<line x1="469.80" y1="567.40" x2="485.40" y2="567.40" stroke="#EB6235" stroke-width="2" stroke-linecap="round"/>
<text x="490.98" y="570.40" class="lg" style="font-size:9.11px">deterministic The equilibrated stress</text>
<text x="659.30" y="510.90" class="pl" style="font-size:19.30px">(f)</text>
<g transform="translate(363.60 582.50) rotate(-90)">
<text x="-70.39" y="0.00" class="ml" style="font-size:8.38px">The equilibrated stress   τ1</text>
<path d="M49.53 -2.81H52.96V-3.94L55.48 -2.26L52.96 -0.59V-1.72H49.53Z" fill="#1a1a1a"/>
</g>
<text x="507.19" y="701.10" class="ml" style="font-size:8.60px">distance   x</text>
<path d="M552.86 698.22H556.38V697.06L558.96 698.78L556.38 700.50V699.34H552.86Z" fill="#1a1a1a"/>
<clipPath id="clipg"><rect x="202.30" y="740.00" width="313.70" height="193.60"/></clipPath>
<line x1="202.30" y1="891.30" x2="516.00" y2="891.30" stroke="#dedede" stroke-width="0.9"/>
<g clip-path="url(#clipg)" fill="none">
<polyline points="208.4,888.4 210.4,899.1 212.4,860.1 214.5,899.8 216.5,891.3 218.5,850.0 220.5,901.5 222.5,815.9 224.6,914.7 226.6,829.4 228.6,869.5 230.6,899.0 232.6,787.4 234.7,876.7 236.7,784.7 238.7,776.5 240.7,874.6 242.7,769.6 244.8,804.9 246.8,852.2 248.8,791.6 250.8,797.3 252.9,751.4 254.9,799.6 256.9,774.4 258.9,835.8 260.9,767.7 263.0,847.4 265.0,794.2 267.0,846.7 269.0,790.3 271.0,834.1 273.1,793.9 275.1,826.4 277.1,812.3 279.1,812.8 281.1,834.3 283.2,819.0 285.2,833.1 287.2,819.7 289.2,831.2 291.2,824.9 293.3,834.2 295.3,826.7 297.3,836.6 299.3,828.8 301.3,842.7 303.4,841.5 305.4,833.0 307.4,846.2 309.4,836.1 311.4,851.8 313.5,839.4 315.5,854.4 317.5,843.2 319.5,853.9 321.5,846.1 323.6,859.3 325.6,849.4 327.6,859.5 329.6,865.3 331.6,852.7 333.7,865.5 335.7,857.6 337.7,866.5 339.7,858.6 341.8,860.8 343.8,863.1 345.8,863.9 347.8,873.5 349.8,875.2 351.9,870.2 353.9,878.7 355.9,868.7 357.9,882.1 359.9,874.7 362.0,882.3 364.0,878.1 366.0,884.7 368.0,877.5 370.0,885.8 372.1,881.2 374.1,887.3 376.1,883.0 378.1,882.0 380.1,888.0 382.2,884.7 384.2,888.6 386.2,889.1 388.2,886.5 390.2,886.2 392.3,887.4 394.3,890.6 396.3,890.8 398.3,888.9 400.3,891.2 402.4,891.0 404.4,888.9 406.4,891.8 408.4,889.8 410.4,892.7 412.5,890.7 414.5,890.3 416.5,892.5 418.5,891.2 420.5,893.1 422.6,893.0 424.6,890.5 426.6,893.1 428.6,891.2 430.7,893.6 432.7,891.6 434.7,892.7 436.7,891.0 438.7,891.4 440.8,891.4 442.8,893.5 444.8,891.5 446.8,893.5 448.8,891.2 450.9,892.9 452.9,891.7 454.9,892.8 456.9,893.5 458.9,892.9 461.0,891.6 463.0,892.8 465.0,893.3 467.0,892.6 469.0,891.0 471.1,892.6 473.1,893.3 475.1,892.9 477.1,891.6 479.1,893.2 481.2,891.3 483.2,890.9 485.2,892.8 487.2,891.5 489.2,891.4 491.3,892.4 493.3,891.4 495.3,892.3 497.3,891.4 499.3,890.7 501.4,892.3 503.4,891.0 505.4,892.2 507.4,891.3 509.5,892.7" stroke="#5E81B5" stroke-width="2.0" stroke-linejoin="bevel"/>
<polyline points="208.4,894.6 210.4,875.6 212.4,892.3 214.5,861.6 216.5,849.9 218.5,904.2 220.5,849.4 222.5,881.1 224.6,921.6 226.6,905.4 228.6,802.6 230.6,879.8 232.6,801.9 234.7,887.6 236.7,891.2 238.7,872.1 240.7,772.1 242.7,793.8 244.8,852.3 246.8,791.9 248.8,869.3 250.8,873.6 252.9,782.5 254.9,862.3 256.9,795.1 258.9,852.4 260.9,848.8 263.0,784.7 265.0,838.4 267.0,763.0 269.0,846.8 271.0,792.8 273.1,838.9 275.1,806.4 277.1,804.5 279.1,834.8 281.1,810.6 283.2,829.7 285.2,818.7 287.2,830.4 289.2,825.3 291.2,837.1 293.3,826.0 295.3,828.9 297.3,826.9 299.3,841.4 301.3,828.8 303.4,829.3 305.4,846.3 307.4,835.9 309.4,846.0 311.4,846.7 313.5,841.9 315.5,841.5 317.5,855.7 319.5,848.0 321.5,845.3 323.6,859.5 325.6,849.2 327.6,859.4 329.6,855.7 331.6,853.8 333.7,866.6 335.7,858.7 337.7,868.0 339.7,863.3 341.8,873.9 343.8,862.2 345.8,876.0 347.8,876.4 349.8,875.8 351.9,867.6 353.9,877.0 355.9,871.2 357.9,879.6 359.9,875.0 362.0,883.9 364.0,877.0 366.0,885.4 368.0,878.3 370.0,884.7 372.1,881.1 374.1,885.1 376.1,881.8 378.1,882.0 380.1,884.2 382.2,888.2 384.2,883.9 386.2,885.7 388.2,889.9 390.2,886.2 392.3,889.7 394.3,887.5 396.3,888.6 398.3,890.8 400.3,891.5 402.4,889.3 404.4,889.8 406.4,891.2 408.4,888.9 410.4,891.9 412.5,892.7 414.5,890.4 416.5,892.7 418.5,890.9 420.5,891.0 422.6,892.9 424.6,890.6 426.6,892.6 428.6,891.1 430.7,893.2 432.7,890.7 434.7,892.9 436.7,893.0 438.7,891.2 440.8,892.8 442.8,893.3 444.8,890.9 446.8,892.9 448.8,893.1 450.9,891.7 452.9,893.1 454.9,890.9 456.9,893.1 458.9,890.8 461.0,892.8 463.0,891.1 465.0,893.3 467.0,891.3 469.0,892.9 471.1,890.9 473.1,891.5 475.1,893.2 477.1,892.8 479.1,891.3 481.2,893.0 483.2,891.3 485.2,892.4 487.2,891.3 489.2,891.0 491.3,892.3 493.3,892.6 495.3,892.4 497.3,891.0 499.3,891.4 501.4,892.8 503.4,890.7 505.4,892.4 507.4,891.1 509.5,892.6" stroke="#E19C24" stroke-width="2.0" stroke-linejoin="bevel"/>
<polyline points="208.4,898.7 210.4,879.8 212.4,896.3 214.5,905.4 216.5,864.2 218.5,901.0 220.5,895.3 222.5,843.5 224.6,911.6 226.6,824.7 228.6,822.9 230.6,893.5 232.6,790.3 234.7,867.0 236.7,756.0 238.7,892.3 240.7,914.6 242.7,784.3 244.8,862.5 246.8,875.8 248.8,785.3 250.8,868.3 252.9,780.4 254.9,797.7 256.9,853.5 258.9,898.3 260.9,780.6 263.0,846.4 265.0,757.3 267.0,852.5 269.0,839.1 271.0,800.0 273.1,832.1 275.1,807.0 277.1,810.6 279.1,813.4 281.1,829.9 283.2,820.1 285.2,829.1 287.2,821.9 289.2,835.6 291.2,824.6 293.3,836.0 295.3,824.2 297.3,839.5 299.3,840.2 301.3,829.6 303.4,842.6 305.4,835.5 307.4,843.8 309.4,839.8 311.4,841.2 313.5,851.1 315.5,841.7 317.5,851.1 319.5,843.6 321.5,856.3 323.6,848.4 325.6,857.6 327.6,850.0 329.6,860.8 331.6,856.5 333.7,865.7 335.7,867.3 337.7,869.0 339.7,872.3 341.8,864.7 343.8,873.5 345.8,865.5 347.8,865.0 349.8,876.8 351.9,867.8 353.9,879.8 355.9,870.7 357.9,879.1 359.9,881.8 362.0,874.7 364.0,884.3 366.0,885.5 368.0,878.9 370.0,883.8 372.1,879.7 374.1,885.9 376.1,881.6 378.1,886.3 380.1,883.9 382.2,883.9 384.2,887.8 386.2,885.8 388.2,888.6 390.2,886.1 392.3,886.9 394.3,890.2 396.3,887.5 398.3,891.3 400.3,889.0 402.4,888.7 404.4,891.0 406.4,889.4 408.4,891.6 410.4,890.6 412.5,892.9 414.5,890.6 416.5,893.2 418.5,893.0 420.5,893.0 422.6,890.3 424.6,890.4 426.6,892.7 428.6,893.6 430.7,892.9 432.7,891.6 434.7,893.6 436.7,891.7 438.7,891.3 440.8,893.5 442.8,891.5 444.8,893.3 446.8,891.2 448.8,891.1 450.9,892.8 452.9,891.1 454.9,893.4 456.9,891.6 458.9,893.5 461.0,890.8 463.0,892.8 465.0,891.0 467.0,893.3 469.0,891.6 471.1,891.0 473.1,893.3 475.1,890.9 477.1,892.5 479.1,891.2 481.2,892.8 483.2,891.2 485.2,892.6 487.2,891.5 489.2,892.3 491.3,891.3 493.3,892.6 495.3,892.7 497.3,890.7 499.3,891.4 501.4,892.5 503.4,892.9 505.4,890.8 507.4,892.2 509.5,890.9" stroke="#8FB032" stroke-width="2.0" stroke-linejoin="bevel"/>
<polyline points="208.4,891.3 209.2,889.8 210.1,888.3 210.9,886.8 211.7,885.3 212.6,883.8 213.4,882.2 214.3,880.7 215.1,879.1 215.9,877.5 216.8,875.8 217.6,874.2 218.4,872.6 219.3,870.9 220.1,869.2 220.9,867.6 221.8,865.9 222.6,864.2 223.5,862.5 224.3,860.7 225.1,859.0 226.0,857.3 226.8,855.5 227.6,853.8 228.5,852.1 229.3,850.4 230.1,848.7 231.0,846.9 231.8,845.2 232.7,843.5 233.5,841.8 234.3,840.1 235.2,838.5 236.0,837.0 236.8,835.6 237.7,834.1 238.5,832.7 239.3,831.3 240.2,830.0 241.0,828.8 241.9,827.6 242.7,826.6 243.5,825.6 244.4,824.8 245.2,824.0 246.0,823.2 246.9,822.5 247.7,821.8 248.5,821.2 249.4,820.6 250.2,820.1 251.0,819.7 251.9,819.2 252.7,818.8 253.6,818.4 254.4,818.0 255.2,817.7 256.1,817.4 256.9,817.1 257.7,816.9 258.6,816.8 259.4,816.7 260.2,816.6 261.1,816.5 261.9,816.4 262.8,816.3 263.6,816.2 264.4,816.2 265.3,816.2 266.1,816.3 266.9,816.3 267.8,816.4 268.6,816.6 269.4,816.7 270.3,816.9 271.1,817.1 272.0,817.3 272.8,817.5 273.6,817.8 274.5,818.1 275.3,818.6 276.1,819.0 277.0,819.5 277.8,820.0 278.6,820.5 279.5,821.0 280.3,821.5 281.2,822.1 282.0,822.7 282.8,823.4 283.7,824.0 284.5,824.7 285.3,825.4 286.2,826.0 287.0,826.7 287.8,827.3 288.7,827.9 289.5,828.4 290.4,828.9 291.2,829.4 292.0,829.9 292.9,830.3 293.7,830.7 294.5,831.2 295.4,831.6 296.2,832.1 297.0,832.5 297.9,833.0 298.7,833.5 299.6,834.1 300.4,834.6 301.2,835.2 302.1,835.9 302.9,836.6 303.7,837.4 304.6,838.1 305.4,838.9 306.2,839.7 307.1,840.4 307.9,841.2 308.8,841.9 309.6,842.5 310.4,843.2 311.3,843.9 312.1,844.5 312.9,845.2 313.8,845.8 314.6,846.5 315.4,847.1 316.3,847.7 317.1,848.4 317.9,849.0 318.8,849.6 319.6,850.3 320.5,850.9 321.3,851.6 322.1,852.2 323.0,852.9 323.8,853.6 324.6,854.2 325.5,854.9 326.3,855.6 327.1,856.2 328.0,856.9 328.8,857.6 329.7,858.2 330.5,858.8 331.3,859.5 332.2,860.1 333.0,860.7 333.8,861.4 334.7,862.0 335.5,862.6 336.3,863.2 337.2,863.8 338.0,864.4 338.9,865.0 339.7,865.6 340.5,866.1 341.4,866.7 342.2,867.2 343.0,867.8 343.9,868.3 344.7,868.8 345.5,869.3 346.4,869.8 347.2,870.3 348.1,870.8 348.9,871.3 349.7,871.8 350.6,872.3 351.4,872.8 352.2,873.3 353.1,873.9 353.9,874.4 354.7,874.9 355.6,875.5 356.4,876.0 357.3,876.5 358.1,877.0 358.9,877.5 359.8,878.0 360.6,878.5 361.4,878.9 362.3,879.2 363.1,879.6 363.9,880.0 364.8,880.3 365.6,880.7 366.5,881.0 367.3,881.4 368.1,881.7 369.0,882.0 369.8,882.4 370.6,882.7 371.5,883.0 372.3,883.3 373.1,883.6 374.0,883.8 374.8,884.1 375.6,884.4 376.5,884.6 377.3,884.9 378.2,885.1 379.0,885.4 379.8,885.6 380.7,885.8 381.5,886.0 382.3,886.3 383.2,886.5 384.0,886.7 384.8,886.9 385.7,887.1 386.5,887.3 387.4,887.4 388.2,887.6 389.0,887.8 389.9,888.0 390.7,888.2 391.5,888.3 392.4,888.5 393.2,888.7 394.0,888.8 394.9,889.0 395.7,889.1 396.6,889.3 397.4,889.4 398.2,889.5 399.1,889.7 399.9,889.8 400.7,889.9 401.6,890.0 402.4,890.1 403.2,890.2 404.1,890.3 404.9,890.4 405.8,890.5 406.6,890.6 407.4,890.7 408.3,890.8 409.1,890.9 409.9,891.0 410.8,891.1 411.6,891.2 412.4,891.3 413.3,891.4 414.1,891.4 415.0,891.5 415.8,891.6 416.6,891.6 417.5,891.7 418.3,891.7 419.1,891.7 420.0,891.8 420.8,891.8 421.6,891.8 422.5,891.9 423.3,891.9 424.2,891.9 425.0,891.9 425.8,892.0 426.7,892.0 427.5,892.0 428.3,892.0 429.2,892.1 430.0,892.1 430.8,892.1 431.7,892.1 432.5,892.1 433.4,892.1 434.2,892.2 435.0,892.2 435.9,892.2 436.7,892.2 437.5,892.2 438.4,892.2 439.2,892.2 440.0,892.2 440.9,892.2 441.7,892.2 442.6,892.2 443.4,892.2 444.2,892.2 445.1,892.2 445.9,892.2 446.7,892.2 447.6,892.2 448.4,892.2 449.2,892.2 450.1,892.2 450.9,892.2 451.7,892.2 452.6,892.2 453.4,892.2 454.3,892.2 455.1,892.2 455.9,892.2 456.8,892.2 457.6,892.2 458.4,892.2 459.3,892.1 460.1,892.1 460.9,892.1 461.8,892.1 462.6,892.1 463.5,892.1 464.3,892.1 465.1,892.1 466.0,892.1 466.8,892.1 467.6,892.1 468.5,892.1 469.3,892.1 470.1,892.0 471.0,892.0 471.8,892.0 472.7,892.0 473.5,892.0 474.3,892.0 475.2,892.0 476.0,892.0 476.8,892.0 477.7,892.0 478.5,892.0 479.3,892.0 480.2,892.0 481.0,892.0 481.9,892.0 482.7,892.0 483.5,891.9 484.4,891.9 485.2,891.9 486.0,891.9 486.9,891.9 487.7,891.9 488.5,891.9 489.4,891.9 490.2,891.9 491.1,891.9 491.9,891.9 492.7,891.9 493.6,891.9 494.4,891.9 495.2,891.9 496.1,891.9 496.9,891.9 497.7,891.8 498.6,891.8 499.4,891.8 500.3,891.8 501.1,891.8 501.9,891.8 502.8,891.8 503.6,891.8 504.4,891.8 505.3,891.8 506.1,891.8 506.9,891.8 507.8,891.8 508.6,891.8 509.5,891.8" stroke="#EB6235" stroke-width="2.2" stroke-linejoin="round" stroke-linecap="round"/>
</g>
<path d="M208.40 933.60v-3.60M208.40 740.00v3.60M225.12 933.60v-2.00M225.12 740.00v2.00M241.85 933.60v-2.00M241.85 740.00v2.00M258.57 933.60v-2.00M258.57 740.00v2.00M275.30 933.60v-3.60M275.30 740.00v3.60M292.02 933.60v-2.00M292.02 740.00v2.00M308.75 933.60v-2.00M308.75 740.00v2.00M325.48 933.60v-2.00M325.48 740.00v2.00M342.20 933.60v-3.60M342.20 740.00v3.60M358.93 933.60v-2.00M358.93 740.00v2.00M375.65 933.60v-2.00M375.65 740.00v2.00M392.38 933.60v-2.00M392.38 740.00v2.00M409.10 933.60v-3.60M409.10 740.00v3.60M425.83 933.60v-2.00M425.83 740.00v2.00M442.55 933.60v-2.00M442.55 740.00v2.00M459.28 933.60v-2.00M459.28 740.00v2.00M476.00 933.60v-3.60M476.00 740.00v3.60M492.73 933.60v-2.00M492.73 740.00v2.00M509.45 933.60v-2.00M509.45 740.00v2.00M202.30 926.28h2.00M516.00 926.28h-2.00M202.30 914.62h2.00M516.00 914.62h-2.00M202.30 902.96h2.00M516.00 902.96h-2.00M202.30 891.30h3.60M516.00 891.30h-3.60M202.30 879.64h2.00M516.00 879.64h-2.00M202.30 867.98h2.00M516.00 867.98h-2.00M202.30 856.32h2.00M516.00 856.32h-2.00M202.30 844.66h3.60M516.00 844.66h-3.60M202.30 833.00h2.00M516.00 833.00h-2.00M202.30 821.34h2.00M516.00 821.34h-2.00M202.30 809.68h2.00M516.00 809.68h-2.00M202.30 798.02h3.60M516.00 798.02h-3.60M202.30 786.36h2.00M516.00 786.36h-2.00M202.30 774.70h2.00M516.00 774.70h-2.00M202.30 763.04h2.00M516.00 763.04h-2.00M202.30 751.38h3.60M516.00 751.38h-3.60" stroke="#b4b4b4" stroke-width="0.85" fill="none"/>
<rect x="202.30" y="740.00" width="313.70" height="193.60" fill="none" stroke="#a9a9a9" stroke-width="1"/>
<text transform="translate(199.45 894.94) scale(1 1.060)" text-anchor="end" class="tk" style="font-size:9.80px">0.0</text>
<text transform="translate(199.45 848.30) scale(1 1.060)" text-anchor="end" class="tk" style="font-size:9.80px">0.2</text>
<text transform="translate(199.45 801.66) scale(1 1.060)" text-anchor="end" class="tk" style="font-size:9.80px">0.4</text>
<text transform="translate(199.45 755.02) scale(1 1.060)" text-anchor="end" class="tk" style="font-size:9.80px">0.6</text>
<text transform="translate(208.40 945.95) scale(1 1.060)" text-anchor="middle" class="tk" style="font-size:9.80px">0</text>
<text transform="translate(275.30 945.95) scale(1 1.060)" text-anchor="middle" class="tk" style="font-size:9.80px">2</text>
<text transform="translate(342.20 945.95) scale(1 1.060)" text-anchor="middle" class="tk" style="font-size:9.80px">4</text>
<text transform="translate(409.10 945.95) scale(1 1.060)" text-anchor="middle" class="tk" style="font-size:9.80px">6</text>
<text transform="translate(476.00 945.95) scale(1 1.060)" text-anchor="middle" class="tk" style="font-size:9.80px">8</text>
<line x1="305.60" y1="761.40" x2="322.30" y2="761.40" stroke="#5E81B5" stroke-width="2" stroke-linecap="round"/>
<text x="328.26" y="764.20" class="lg" style="font-size:9.64px">sample path1</text>
<line x1="305.60" y1="781.30" x2="322.30" y2="781.30" stroke="#E19C24" stroke-width="2" stroke-linecap="round"/>
<text x="328.26" y="784.10" class="lg" style="font-size:9.64px">sample path2</text>
<line x1="305.60" y1="801.20" x2="322.30" y2="801.20" stroke="#8FB032" stroke-width="2" stroke-linecap="round"/>
<text x="328.26" y="804.00" class="lg" style="font-size:9.64px">sample path3</text>
<line x1="305.60" y1="820.80" x2="322.30" y2="820.80" stroke="#EB6235" stroke-width="2" stroke-linecap="round"/>
<text x="328.26" y="823.60" class="lg" style="font-size:9.64px">deterministic The equilibrated stress 2</text>
<text x="487.40" y="769.60" class="pl" style="font-size:20.30px">(g)</text>
<g transform="translate(176.80 837.10) rotate(-90)">
<text x="-80.64" y="0.00" class="ml" style="font-size:8.96px">The equilibrated stress 2   σ1</text>
<path d="M58.33 -3.00H62.00V-4.21L64.69 -2.42L62.00 -0.63V-1.84H58.33Z" fill="#1a1a1a"/>
</g>
<text x="326.37" y="963.10" class="ml" style="font-size:9.05px">distance   x</text>
<path d="M374.43 960.07H378.14V958.85L380.85 960.66L378.14 962.47V961.24H374.43Z" fill="#1a1a1a"/>
</svg>
</body></html>
